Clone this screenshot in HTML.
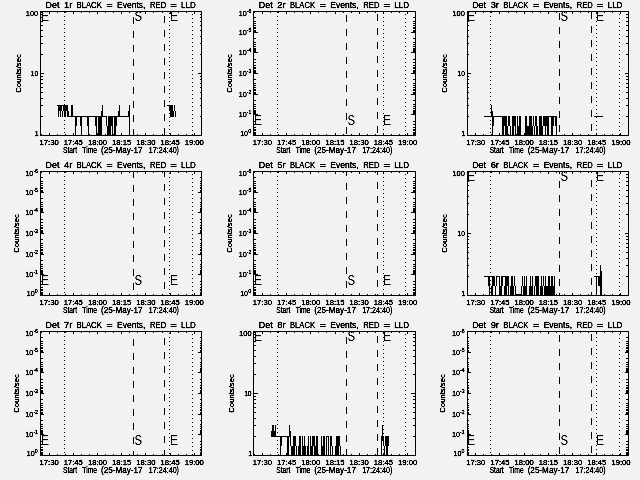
<!DOCTYPE html>
<html><head><meta charset="utf-8"><title>Detector light curves</title>
<style>
html,body{margin:0;padding:0;background:#f2f2f2;}
svg{display:block;filter:grayscale(1);}
text{font-family:"Liberation Sans", sans-serif;fill:#000;stroke:#000;stroke-width:0.28px;}
text.big{stroke-width:0;stroke:none;}
</style></head>
<body>
<svg width="640" height="480" viewBox="0 0 640 480">
<rect x="0" y="0" width="640" height="480" fill="#f2f2f2"/>
<g fill="#000" shape-rendering="crispEdges">
<rect x="40" y="11" width="162" height="1"/>
<rect x="40" y="135" width="162" height="1"/>
<rect x="40" y="11" width="1" height="125"/>
<rect x="201" y="11" width="1" height="125"/>
<rect x="41" y="134" width="1" height="1"/>
<rect x="41" y="12" width="1" height="1"/>
<rect x="49" y="133" width="1" height="2"/>
<rect x="49" y="12" width="1" height="2"/>
<rect x="57" y="134" width="1" height="1"/>
<rect x="57" y="12" width="1" height="1"/>
<rect x="65" y="134" width="1" height="1"/>
<rect x="65" y="12" width="1" height="1"/>
<rect x="73" y="133" width="1" height="2"/>
<rect x="73" y="12" width="1" height="2"/>
<rect x="81" y="134" width="1" height="1"/>
<rect x="81" y="12" width="1" height="1"/>
<rect x="89" y="134" width="1" height="1"/>
<rect x="89" y="12" width="1" height="1"/>
<rect x="97" y="133" width="1" height="2"/>
<rect x="97" y="12" width="1" height="2"/>
<rect x="105" y="134" width="1" height="1"/>
<rect x="105" y="12" width="1" height="1"/>
<rect x="113" y="134" width="1" height="1"/>
<rect x="113" y="12" width="1" height="1"/>
<rect x="121" y="133" width="1" height="2"/>
<rect x="121" y="12" width="1" height="2"/>
<rect x="129" y="134" width="1" height="1"/>
<rect x="129" y="12" width="1" height="1"/>
<rect x="137" y="134" width="1" height="1"/>
<rect x="137" y="12" width="1" height="1"/>
<rect x="145" y="133" width="1" height="2"/>
<rect x="145" y="12" width="1" height="2"/>
<rect x="153" y="134" width="1" height="1"/>
<rect x="153" y="12" width="1" height="1"/>
<rect x="162" y="134" width="1" height="1"/>
<rect x="162" y="12" width="1" height="1"/>
<rect x="170" y="133" width="1" height="2"/>
<rect x="170" y="12" width="1" height="2"/>
<rect x="178" y="134" width="1" height="1"/>
<rect x="178" y="12" width="1" height="1"/>
<rect x="186" y="134" width="1" height="1"/>
<rect x="186" y="12" width="1" height="1"/>
<rect x="194" y="133" width="1" height="2"/>
<rect x="194" y="12" width="1" height="2"/>
<rect x="41" y="116" width="2" height="1"/>
<rect x="200" y="116" width="1" height="1"/>
<rect x="41" y="105" width="2" height="1"/>
<rect x="200" y="105" width="1" height="1"/>
<rect x="41" y="98" width="2" height="1"/>
<rect x="200" y="98" width="1" height="1"/>
<rect x="41" y="92" width="2" height="1"/>
<rect x="200" y="92" width="1" height="1"/>
<rect x="41" y="87" width="2" height="1"/>
<rect x="200" y="87" width="1" height="1"/>
<rect x="41" y="83" width="2" height="1"/>
<rect x="200" y="83" width="1" height="1"/>
<rect x="41" y="79" width="2" height="1"/>
<rect x="200" y="79" width="1" height="1"/>
<rect x="41" y="76" width="2" height="1"/>
<rect x="200" y="76" width="1" height="1"/>
<rect x="41" y="73" width="3" height="1"/>
<rect x="198" y="73" width="3" height="1"/>
<rect x="41" y="54" width="2" height="1"/>
<rect x="200" y="54" width="1" height="1"/>
<rect x="41" y="43" width="2" height="1"/>
<rect x="200" y="43" width="1" height="1"/>
<rect x="41" y="36" width="2" height="1"/>
<rect x="200" y="36" width="1" height="1"/>
<rect x="41" y="30" width="2" height="1"/>
<rect x="200" y="30" width="1" height="1"/>
<rect x="41" y="25" width="2" height="1"/>
<rect x="200" y="25" width="1" height="1"/>
<rect x="41" y="21" width="2" height="1"/>
<rect x="200" y="21" width="1" height="1"/>
<rect x="41" y="17" width="2" height="1"/>
<rect x="200" y="17" width="1" height="1"/>
<rect x="41" y="14" width="2" height="1"/>
<rect x="200" y="14" width="1" height="1"/>
<rect x="64" y="12" width="1" height="1"/>
<rect x="64" y="16" width="1" height="1"/>
<rect x="64" y="20" width="1" height="1"/>
<rect x="64" y="24" width="1" height="1"/>
<rect x="64" y="28" width="1" height="1"/>
<rect x="64" y="32" width="1" height="1"/>
<rect x="64" y="36" width="1" height="1"/>
<rect x="64" y="40" width="1" height="1"/>
<rect x="64" y="44" width="1" height="1"/>
<rect x="64" y="48" width="1" height="1"/>
<rect x="64" y="52" width="1" height="1"/>
<rect x="64" y="56" width="1" height="1"/>
<rect x="64" y="60" width="1" height="1"/>
<rect x="64" y="64" width="1" height="1"/>
<rect x="64" y="68" width="1" height="1"/>
<rect x="64" y="72" width="1" height="1"/>
<rect x="64" y="76" width="1" height="1"/>
<rect x="64" y="80" width="1" height="1"/>
<rect x="64" y="84" width="1" height="1"/>
<rect x="64" y="88" width="1" height="1"/>
<rect x="64" y="92" width="1" height="1"/>
<rect x="64" y="96" width="1" height="1"/>
<rect x="64" y="100" width="1" height="1"/>
<rect x="64" y="104" width="1" height="1"/>
<rect x="64" y="108" width="1" height="1"/>
<rect x="64" y="112" width="1" height="1"/>
<rect x="64" y="116" width="1" height="1"/>
<rect x="64" y="120" width="1" height="1"/>
<rect x="64" y="124" width="1" height="1"/>
<rect x="64" y="128" width="1" height="1"/>
<rect x="64" y="132" width="1" height="1"/>
<rect x="169" y="13" width="1" height="1"/>
<rect x="169" y="17" width="1" height="1"/>
<rect x="169" y="21" width="1" height="1"/>
<rect x="169" y="25" width="1" height="1"/>
<rect x="169" y="29" width="1" height="1"/>
<rect x="169" y="33" width="1" height="1"/>
<rect x="169" y="37" width="1" height="1"/>
<rect x="169" y="41" width="1" height="1"/>
<rect x="169" y="45" width="1" height="1"/>
<rect x="169" y="49" width="1" height="1"/>
<rect x="169" y="53" width="1" height="1"/>
<rect x="169" y="57" width="1" height="1"/>
<rect x="169" y="61" width="1" height="1"/>
<rect x="169" y="65" width="1" height="1"/>
<rect x="169" y="69" width="1" height="1"/>
<rect x="169" y="73" width="1" height="1"/>
<rect x="169" y="77" width="1" height="1"/>
<rect x="169" y="81" width="1" height="1"/>
<rect x="169" y="85" width="1" height="1"/>
<rect x="169" y="89" width="1" height="1"/>
<rect x="169" y="93" width="1" height="1"/>
<rect x="169" y="97" width="1" height="1"/>
<rect x="169" y="101" width="1" height="1"/>
<rect x="169" y="105" width="1" height="1"/>
<rect x="169" y="109" width="1" height="1"/>
<rect x="169" y="113" width="1" height="1"/>
<rect x="169" y="117" width="1" height="1"/>
<rect x="169" y="121" width="1" height="1"/>
<rect x="169" y="125" width="1" height="1"/>
<rect x="169" y="129" width="1" height="1"/>
<rect x="169" y="133" width="1" height="1"/>
<rect x="192" y="14" width="1" height="1"/>
<rect x="192" y="18" width="1" height="1"/>
<rect x="192" y="22" width="1" height="1"/>
<rect x="192" y="26" width="1" height="1"/>
<rect x="192" y="30" width="1" height="1"/>
<rect x="192" y="34" width="1" height="1"/>
<rect x="192" y="38" width="1" height="1"/>
<rect x="192" y="42" width="1" height="1"/>
<rect x="192" y="46" width="1" height="1"/>
<rect x="192" y="50" width="1" height="1"/>
<rect x="192" y="54" width="1" height="1"/>
<rect x="192" y="58" width="1" height="1"/>
<rect x="192" y="62" width="1" height="1"/>
<rect x="192" y="66" width="1" height="1"/>
<rect x="192" y="70" width="1" height="1"/>
<rect x="192" y="74" width="1" height="1"/>
<rect x="192" y="78" width="1" height="1"/>
<rect x="192" y="82" width="1" height="1"/>
<rect x="192" y="86" width="1" height="1"/>
<rect x="192" y="90" width="1" height="1"/>
<rect x="192" y="94" width="1" height="1"/>
<rect x="192" y="98" width="1" height="1"/>
<rect x="192" y="102" width="1" height="1"/>
<rect x="192" y="106" width="1" height="1"/>
<rect x="192" y="110" width="1" height="1"/>
<rect x="192" y="114" width="1" height="1"/>
<rect x="192" y="118" width="1" height="1"/>
<rect x="192" y="122" width="1" height="1"/>
<rect x="192" y="126" width="1" height="1"/>
<rect x="192" y="130" width="1" height="1"/>
<rect x="192" y="134" width="1" height="1"/>
<rect x="133" y="17" width="1" height="7"/>
<rect x="133" y="31" width="1" height="7"/>
<rect x="133" y="45" width="1" height="7"/>
<rect x="133" y="59" width="1" height="7"/>
<rect x="133" y="73" width="1" height="7"/>
<rect x="133" y="87" width="1" height="7"/>
<rect x="133" y="101" width="1" height="7"/>
<rect x="133" y="115" width="1" height="7"/>
<rect x="133" y="129" width="1" height="6"/>
<rect x="164" y="16" width="1" height="7"/>
<rect x="164" y="30" width="1" height="7"/>
<rect x="164" y="44" width="1" height="7"/>
<rect x="164" y="58" width="1" height="7"/>
<rect x="164" y="72" width="1" height="7"/>
<rect x="164" y="86" width="1" height="7"/>
<rect x="164" y="100" width="1" height="7"/>
<rect x="164" y="114" width="1" height="7"/>
<rect x="164" y="128" width="1" height="7"/>
<rect x="57" y="105" width="11" height="1"/>
<rect x="71" y="105" width="2" height="1"/>
<rect x="102" y="105" width="1" height="1"/>
<rect x="119" y="105" width="1" height="1"/>
<rect x="129" y="105" width="1" height="1"/>
<rect x="167" y="105" width="6" height="1"/>
<rect x="174" y="105" width="1" height="1"/>
<rect x="58" y="106" width="4" height="5"/>
<rect x="63" y="106" width="5" height="5"/>
<rect x="71" y="106" width="2" height="5"/>
<rect x="102" y="106" width="1" height="5"/>
<rect x="119" y="106" width="1" height="5"/>
<rect x="129" y="106" width="1" height="5"/>
<rect x="169" y="106" width="4" height="5"/>
<rect x="174" y="106" width="1" height="5"/>
<rect x="58" y="111" width="1" height="5"/>
<rect x="60" y="111" width="1" height="5"/>
<rect x="62" y="111" width="1" height="5"/>
<rect x="64" y="111" width="2" height="5"/>
<rect x="67" y="111" width="2" height="5"/>
<rect x="71" y="111" width="2" height="5"/>
<rect x="101" y="111" width="2" height="5"/>
<rect x="118" y="111" width="2" height="5"/>
<rect x="128" y="111" width="2" height="5"/>
<rect x="170" y="111" width="4" height="5"/>
<rect x="175" y="111" width="1" height="5"/>
<rect x="58" y="116" width="1" height="1"/>
<rect x="60" y="116" width="1" height="1"/>
<rect x="62" y="116" width="1" height="1"/>
<rect x="64" y="116" width="2" height="1"/>
<rect x="67" y="116" width="40" height="1"/>
<rect x="108" y="116" width="22" height="1"/>
<rect x="170" y="116" width="4" height="1"/>
<rect x="175" y="116" width="1" height="1"/>
<rect x="75" y="117" width="2" height="9"/>
<rect x="80" y="117" width="2" height="9"/>
<rect x="87" y="117" width="2" height="9"/>
<rect x="95" y="117" width="2" height="9"/>
<rect x="98" y="117" width="4" height="9"/>
<rect x="106" y="117" width="1" height="9"/>
<rect x="108" y="117" width="5" height="9"/>
<rect x="114" y="117" width="3" height="9"/>
<rect x="129" y="117" width="1" height="9"/>
<rect x="75" y="126" width="1" height="9"/>
<rect x="81" y="126" width="1" height="9"/>
<rect x="88" y="126" width="1" height="9"/>
<rect x="96" y="126" width="1" height="9"/>
<rect x="98" y="126" width="4" height="9"/>
<rect x="107" y="126" width="4" height="9"/>
<rect x="112" y="126" width="1" height="9"/>
<rect x="114" y="126" width="2" height="9"/>
<rect x="129" y="126" width="1" height="9"/>
<rect x="253" y="11" width="163" height="1"/>
<rect x="253" y="135" width="163" height="1"/>
<rect x="253" y="11" width="1" height="125"/>
<rect x="415" y="11" width="1" height="125"/>
<rect x="254" y="134" width="1" height="1"/>
<rect x="254" y="12" width="1" height="1"/>
<rect x="262" y="133" width="1" height="2"/>
<rect x="262" y="12" width="1" height="2"/>
<rect x="270" y="134" width="1" height="1"/>
<rect x="270" y="12" width="1" height="1"/>
<rect x="278" y="134" width="1" height="1"/>
<rect x="278" y="12" width="1" height="1"/>
<rect x="286" y="133" width="1" height="2"/>
<rect x="286" y="12" width="1" height="2"/>
<rect x="294" y="134" width="1" height="1"/>
<rect x="294" y="12" width="1" height="1"/>
<rect x="302" y="134" width="1" height="1"/>
<rect x="302" y="12" width="1" height="1"/>
<rect x="310" y="133" width="1" height="2"/>
<rect x="310" y="12" width="1" height="2"/>
<rect x="318" y="134" width="1" height="1"/>
<rect x="318" y="12" width="1" height="1"/>
<rect x="326" y="134" width="1" height="1"/>
<rect x="326" y="12" width="1" height="1"/>
<rect x="335" y="133" width="1" height="2"/>
<rect x="335" y="12" width="1" height="2"/>
<rect x="343" y="134" width="1" height="1"/>
<rect x="343" y="12" width="1" height="1"/>
<rect x="351" y="134" width="1" height="1"/>
<rect x="351" y="12" width="1" height="1"/>
<rect x="359" y="133" width="1" height="2"/>
<rect x="359" y="12" width="1" height="2"/>
<rect x="367" y="134" width="1" height="1"/>
<rect x="367" y="12" width="1" height="1"/>
<rect x="375" y="134" width="1" height="1"/>
<rect x="375" y="12" width="1" height="1"/>
<rect x="383" y="133" width="1" height="2"/>
<rect x="383" y="12" width="1" height="2"/>
<rect x="391" y="134" width="1" height="1"/>
<rect x="391" y="12" width="1" height="1"/>
<rect x="399" y="134" width="1" height="1"/>
<rect x="399" y="12" width="1" height="1"/>
<rect x="407" y="133" width="1" height="2"/>
<rect x="407" y="12" width="1" height="2"/>
<rect x="254" y="17" width="2" height="1"/>
<rect x="413" y="17" width="2" height="1"/>
<rect x="254" y="21" width="2" height="1"/>
<rect x="413" y="21" width="2" height="1"/>
<rect x="254" y="23" width="2" height="1"/>
<rect x="413" y="23" width="2" height="1"/>
<rect x="254" y="25" width="2" height="1"/>
<rect x="413" y="25" width="2" height="1"/>
<rect x="254" y="27" width="2" height="1"/>
<rect x="413" y="27" width="2" height="1"/>
<rect x="254" y="28" width="2" height="1"/>
<rect x="413" y="28" width="2" height="1"/>
<rect x="254" y="30" width="2" height="1"/>
<rect x="413" y="30" width="2" height="1"/>
<rect x="254" y="31" width="2" height="1"/>
<rect x="413" y="31" width="2" height="1"/>
<rect x="254" y="32" width="4" height="1"/>
<rect x="411" y="32" width="4" height="1"/>
<rect x="254" y="38" width="2" height="1"/>
<rect x="413" y="38" width="2" height="1"/>
<rect x="254" y="42" width="2" height="1"/>
<rect x="413" y="42" width="2" height="1"/>
<rect x="254" y="44" width="2" height="1"/>
<rect x="413" y="44" width="2" height="1"/>
<rect x="254" y="46" width="2" height="1"/>
<rect x="413" y="46" width="2" height="1"/>
<rect x="254" y="48" width="2" height="1"/>
<rect x="413" y="48" width="2" height="1"/>
<rect x="254" y="49" width="2" height="1"/>
<rect x="413" y="49" width="2" height="1"/>
<rect x="254" y="50" width="2" height="1"/>
<rect x="413" y="50" width="2" height="1"/>
<rect x="254" y="51" width="2" height="1"/>
<rect x="413" y="51" width="2" height="1"/>
<rect x="254" y="52" width="4" height="1"/>
<rect x="411" y="52" width="4" height="1"/>
<rect x="254" y="59" width="2" height="1"/>
<rect x="413" y="59" width="2" height="1"/>
<rect x="254" y="62" width="2" height="1"/>
<rect x="413" y="62" width="2" height="1"/>
<rect x="254" y="65" width="2" height="1"/>
<rect x="413" y="65" width="2" height="1"/>
<rect x="254" y="67" width="2" height="1"/>
<rect x="413" y="67" width="2" height="1"/>
<rect x="254" y="68" width="2" height="1"/>
<rect x="413" y="68" width="2" height="1"/>
<rect x="254" y="70" width="2" height="1"/>
<rect x="413" y="70" width="2" height="1"/>
<rect x="254" y="71" width="2" height="1"/>
<rect x="413" y="71" width="2" height="1"/>
<rect x="254" y="72" width="2" height="1"/>
<rect x="413" y="72" width="2" height="1"/>
<rect x="254" y="73" width="4" height="1"/>
<rect x="411" y="73" width="4" height="1"/>
<rect x="254" y="79" width="2" height="1"/>
<rect x="413" y="79" width="2" height="1"/>
<rect x="254" y="83" width="2" height="1"/>
<rect x="413" y="83" width="2" height="1"/>
<rect x="254" y="85" width="2" height="1"/>
<rect x="413" y="85" width="2" height="1"/>
<rect x="254" y="87" width="2" height="1"/>
<rect x="413" y="87" width="2" height="1"/>
<rect x="254" y="89" width="2" height="1"/>
<rect x="413" y="89" width="2" height="1"/>
<rect x="254" y="90" width="2" height="1"/>
<rect x="413" y="90" width="2" height="1"/>
<rect x="254" y="92" width="2" height="1"/>
<rect x="413" y="92" width="2" height="1"/>
<rect x="254" y="93" width="2" height="1"/>
<rect x="413" y="93" width="2" height="1"/>
<rect x="254" y="94" width="4" height="1"/>
<rect x="411" y="94" width="4" height="1"/>
<rect x="254" y="100" width="2" height="1"/>
<rect x="413" y="100" width="2" height="1"/>
<rect x="254" y="104" width="2" height="1"/>
<rect x="413" y="104" width="2" height="1"/>
<rect x="254" y="106" width="2" height="1"/>
<rect x="413" y="106" width="2" height="1"/>
<rect x="254" y="108" width="2" height="1"/>
<rect x="413" y="108" width="2" height="1"/>
<rect x="254" y="110" width="2" height="1"/>
<rect x="413" y="110" width="2" height="1"/>
<rect x="254" y="111" width="2" height="1"/>
<rect x="413" y="111" width="2" height="1"/>
<rect x="254" y="112" width="2" height="1"/>
<rect x="413" y="112" width="2" height="1"/>
<rect x="254" y="113" width="2" height="1"/>
<rect x="413" y="113" width="2" height="1"/>
<rect x="254" y="114" width="4" height="1"/>
<rect x="411" y="114" width="4" height="1"/>
<rect x="254" y="121" width="2" height="1"/>
<rect x="413" y="121" width="2" height="1"/>
<rect x="254" y="124" width="2" height="1"/>
<rect x="413" y="124" width="2" height="1"/>
<rect x="254" y="127" width="2" height="1"/>
<rect x="413" y="127" width="2" height="1"/>
<rect x="254" y="129" width="2" height="1"/>
<rect x="413" y="129" width="2" height="1"/>
<rect x="254" y="130" width="2" height="1"/>
<rect x="413" y="130" width="2" height="1"/>
<rect x="254" y="132" width="2" height="1"/>
<rect x="413" y="132" width="2" height="1"/>
<rect x="254" y="133" width="2" height="1"/>
<rect x="413" y="133" width="2" height="1"/>
<rect x="254" y="134" width="2" height="1"/>
<rect x="413" y="134" width="2" height="1"/>
<rect x="277" y="12" width="1" height="1"/>
<rect x="277" y="16" width="1" height="1"/>
<rect x="277" y="20" width="1" height="1"/>
<rect x="277" y="24" width="1" height="1"/>
<rect x="277" y="28" width="1" height="1"/>
<rect x="277" y="32" width="1" height="1"/>
<rect x="277" y="36" width="1" height="1"/>
<rect x="277" y="40" width="1" height="1"/>
<rect x="277" y="44" width="1" height="1"/>
<rect x="277" y="48" width="1" height="1"/>
<rect x="277" y="52" width="1" height="1"/>
<rect x="277" y="56" width="1" height="1"/>
<rect x="277" y="60" width="1" height="1"/>
<rect x="277" y="64" width="1" height="1"/>
<rect x="277" y="68" width="1" height="1"/>
<rect x="277" y="72" width="1" height="1"/>
<rect x="277" y="76" width="1" height="1"/>
<rect x="277" y="80" width="1" height="1"/>
<rect x="277" y="84" width="1" height="1"/>
<rect x="277" y="88" width="1" height="1"/>
<rect x="277" y="92" width="1" height="1"/>
<rect x="277" y="96" width="1" height="1"/>
<rect x="277" y="100" width="1" height="1"/>
<rect x="277" y="104" width="1" height="1"/>
<rect x="277" y="108" width="1" height="1"/>
<rect x="277" y="112" width="1" height="1"/>
<rect x="277" y="116" width="1" height="1"/>
<rect x="277" y="120" width="1" height="1"/>
<rect x="277" y="124" width="1" height="1"/>
<rect x="277" y="128" width="1" height="1"/>
<rect x="277" y="132" width="1" height="1"/>
<rect x="383" y="13" width="1" height="1"/>
<rect x="383" y="17" width="1" height="1"/>
<rect x="383" y="21" width="1" height="1"/>
<rect x="383" y="25" width="1" height="1"/>
<rect x="383" y="29" width="1" height="1"/>
<rect x="383" y="33" width="1" height="1"/>
<rect x="383" y="37" width="1" height="1"/>
<rect x="383" y="41" width="1" height="1"/>
<rect x="383" y="45" width="1" height="1"/>
<rect x="383" y="49" width="1" height="1"/>
<rect x="383" y="53" width="1" height="1"/>
<rect x="383" y="57" width="1" height="1"/>
<rect x="383" y="61" width="1" height="1"/>
<rect x="383" y="65" width="1" height="1"/>
<rect x="383" y="69" width="1" height="1"/>
<rect x="383" y="73" width="1" height="1"/>
<rect x="383" y="77" width="1" height="1"/>
<rect x="383" y="81" width="1" height="1"/>
<rect x="383" y="85" width="1" height="1"/>
<rect x="383" y="89" width="1" height="1"/>
<rect x="383" y="93" width="1" height="1"/>
<rect x="383" y="97" width="1" height="1"/>
<rect x="383" y="101" width="1" height="1"/>
<rect x="383" y="105" width="1" height="1"/>
<rect x="383" y="109" width="1" height="1"/>
<rect x="383" y="113" width="1" height="1"/>
<rect x="383" y="117" width="1" height="1"/>
<rect x="383" y="121" width="1" height="1"/>
<rect x="383" y="125" width="1" height="1"/>
<rect x="383" y="129" width="1" height="1"/>
<rect x="383" y="133" width="1" height="1"/>
<rect x="405" y="14" width="1" height="1"/>
<rect x="405" y="18" width="1" height="1"/>
<rect x="405" y="22" width="1" height="1"/>
<rect x="405" y="26" width="1" height="1"/>
<rect x="405" y="30" width="1" height="1"/>
<rect x="405" y="34" width="1" height="1"/>
<rect x="405" y="38" width="1" height="1"/>
<rect x="405" y="42" width="1" height="1"/>
<rect x="405" y="46" width="1" height="1"/>
<rect x="405" y="50" width="1" height="1"/>
<rect x="405" y="54" width="1" height="1"/>
<rect x="405" y="58" width="1" height="1"/>
<rect x="405" y="62" width="1" height="1"/>
<rect x="405" y="66" width="1" height="1"/>
<rect x="405" y="70" width="1" height="1"/>
<rect x="405" y="74" width="1" height="1"/>
<rect x="405" y="78" width="1" height="1"/>
<rect x="405" y="82" width="1" height="1"/>
<rect x="405" y="86" width="1" height="1"/>
<rect x="405" y="90" width="1" height="1"/>
<rect x="405" y="94" width="1" height="1"/>
<rect x="405" y="98" width="1" height="1"/>
<rect x="405" y="102" width="1" height="1"/>
<rect x="405" y="106" width="1" height="1"/>
<rect x="405" y="110" width="1" height="1"/>
<rect x="405" y="114" width="1" height="1"/>
<rect x="405" y="118" width="1" height="1"/>
<rect x="405" y="122" width="1" height="1"/>
<rect x="405" y="126" width="1" height="1"/>
<rect x="405" y="130" width="1" height="1"/>
<rect x="405" y="134" width="1" height="1"/>
<rect x="346" y="15" width="1" height="7"/>
<rect x="346" y="29" width="1" height="7"/>
<rect x="346" y="43" width="1" height="7"/>
<rect x="346" y="57" width="1" height="7"/>
<rect x="346" y="71" width="1" height="7"/>
<rect x="346" y="85" width="1" height="7"/>
<rect x="346" y="99" width="1" height="7"/>
<rect x="346" y="113" width="1" height="7"/>
<rect x="346" y="127" width="1" height="7"/>
<rect x="377" y="14" width="1" height="7"/>
<rect x="377" y="28" width="1" height="7"/>
<rect x="377" y="42" width="1" height="7"/>
<rect x="377" y="56" width="1" height="7"/>
<rect x="377" y="70" width="1" height="7"/>
<rect x="377" y="84" width="1" height="7"/>
<rect x="377" y="98" width="1" height="7"/>
<rect x="377" y="112" width="1" height="7"/>
<rect x="377" y="126" width="1" height="7"/>
<rect x="467" y="11" width="162" height="1"/>
<rect x="467" y="135" width="162" height="1"/>
<rect x="467" y="11" width="1" height="125"/>
<rect x="628" y="11" width="1" height="125"/>
<rect x="475" y="133" width="1" height="2"/>
<rect x="475" y="12" width="1" height="2"/>
<rect x="483" y="134" width="1" height="1"/>
<rect x="483" y="12" width="1" height="1"/>
<rect x="491" y="134" width="1" height="1"/>
<rect x="491" y="12" width="1" height="1"/>
<rect x="499" y="133" width="1" height="2"/>
<rect x="499" y="12" width="1" height="2"/>
<rect x="508" y="134" width="1" height="1"/>
<rect x="508" y="12" width="1" height="1"/>
<rect x="516" y="134" width="1" height="1"/>
<rect x="516" y="12" width="1" height="1"/>
<rect x="524" y="133" width="1" height="2"/>
<rect x="524" y="12" width="1" height="2"/>
<rect x="532" y="134" width="1" height="1"/>
<rect x="532" y="12" width="1" height="1"/>
<rect x="540" y="134" width="1" height="1"/>
<rect x="540" y="12" width="1" height="1"/>
<rect x="548" y="133" width="1" height="2"/>
<rect x="548" y="12" width="1" height="2"/>
<rect x="556" y="134" width="1" height="1"/>
<rect x="556" y="12" width="1" height="1"/>
<rect x="564" y="134" width="1" height="1"/>
<rect x="564" y="12" width="1" height="1"/>
<rect x="572" y="133" width="1" height="2"/>
<rect x="572" y="12" width="1" height="2"/>
<rect x="580" y="134" width="1" height="1"/>
<rect x="580" y="12" width="1" height="1"/>
<rect x="588" y="134" width="1" height="1"/>
<rect x="588" y="12" width="1" height="1"/>
<rect x="596" y="133" width="1" height="2"/>
<rect x="596" y="12" width="1" height="2"/>
<rect x="604" y="134" width="1" height="1"/>
<rect x="604" y="12" width="1" height="1"/>
<rect x="612" y="134" width="1" height="1"/>
<rect x="612" y="12" width="1" height="1"/>
<rect x="620" y="133" width="1" height="2"/>
<rect x="620" y="12" width="1" height="2"/>
<rect x="468" y="116" width="1" height="1"/>
<rect x="626" y="116" width="2" height="1"/>
<rect x="468" y="105" width="1" height="1"/>
<rect x="626" y="105" width="2" height="1"/>
<rect x="468" y="98" width="1" height="1"/>
<rect x="626" y="98" width="2" height="1"/>
<rect x="468" y="92" width="1" height="1"/>
<rect x="626" y="92" width="2" height="1"/>
<rect x="468" y="87" width="1" height="1"/>
<rect x="626" y="87" width="2" height="1"/>
<rect x="468" y="83" width="1" height="1"/>
<rect x="626" y="83" width="2" height="1"/>
<rect x="468" y="79" width="1" height="1"/>
<rect x="626" y="79" width="2" height="1"/>
<rect x="468" y="76" width="1" height="1"/>
<rect x="626" y="76" width="2" height="1"/>
<rect x="468" y="73" width="3" height="1"/>
<rect x="625" y="73" width="3" height="1"/>
<rect x="468" y="54" width="1" height="1"/>
<rect x="626" y="54" width="2" height="1"/>
<rect x="468" y="43" width="1" height="1"/>
<rect x="626" y="43" width="2" height="1"/>
<rect x="468" y="36" width="1" height="1"/>
<rect x="626" y="36" width="2" height="1"/>
<rect x="468" y="30" width="1" height="1"/>
<rect x="626" y="30" width="2" height="1"/>
<rect x="468" y="25" width="1" height="1"/>
<rect x="626" y="25" width="2" height="1"/>
<rect x="468" y="21" width="1" height="1"/>
<rect x="626" y="21" width="2" height="1"/>
<rect x="468" y="17" width="1" height="1"/>
<rect x="626" y="17" width="2" height="1"/>
<rect x="468" y="14" width="1" height="1"/>
<rect x="626" y="14" width="2" height="1"/>
<rect x="490" y="12" width="1" height="1"/>
<rect x="490" y="16" width="1" height="1"/>
<rect x="490" y="20" width="1" height="1"/>
<rect x="490" y="24" width="1" height="1"/>
<rect x="490" y="28" width="1" height="1"/>
<rect x="490" y="32" width="1" height="1"/>
<rect x="490" y="36" width="1" height="1"/>
<rect x="490" y="40" width="1" height="1"/>
<rect x="490" y="44" width="1" height="1"/>
<rect x="490" y="48" width="1" height="1"/>
<rect x="490" y="52" width="1" height="1"/>
<rect x="490" y="56" width="1" height="1"/>
<rect x="490" y="60" width="1" height="1"/>
<rect x="490" y="64" width="1" height="1"/>
<rect x="490" y="68" width="1" height="1"/>
<rect x="490" y="72" width="1" height="1"/>
<rect x="490" y="76" width="1" height="1"/>
<rect x="490" y="80" width="1" height="1"/>
<rect x="490" y="84" width="1" height="1"/>
<rect x="490" y="88" width="1" height="1"/>
<rect x="490" y="92" width="1" height="1"/>
<rect x="490" y="96" width="1" height="1"/>
<rect x="490" y="100" width="1" height="1"/>
<rect x="490" y="104" width="1" height="1"/>
<rect x="490" y="108" width="1" height="1"/>
<rect x="490" y="112" width="1" height="1"/>
<rect x="490" y="116" width="1" height="1"/>
<rect x="490" y="120" width="1" height="1"/>
<rect x="490" y="124" width="1" height="1"/>
<rect x="490" y="128" width="1" height="1"/>
<rect x="490" y="132" width="1" height="1"/>
<rect x="596" y="13" width="1" height="1"/>
<rect x="596" y="17" width="1" height="1"/>
<rect x="596" y="21" width="1" height="1"/>
<rect x="596" y="25" width="1" height="1"/>
<rect x="596" y="29" width="1" height="1"/>
<rect x="596" y="33" width="1" height="1"/>
<rect x="596" y="37" width="1" height="1"/>
<rect x="596" y="41" width="1" height="1"/>
<rect x="596" y="45" width="1" height="1"/>
<rect x="596" y="49" width="1" height="1"/>
<rect x="596" y="53" width="1" height="1"/>
<rect x="596" y="57" width="1" height="1"/>
<rect x="596" y="61" width="1" height="1"/>
<rect x="596" y="65" width="1" height="1"/>
<rect x="596" y="69" width="1" height="1"/>
<rect x="596" y="73" width="1" height="1"/>
<rect x="596" y="77" width="1" height="1"/>
<rect x="596" y="81" width="1" height="1"/>
<rect x="596" y="85" width="1" height="1"/>
<rect x="596" y="89" width="1" height="1"/>
<rect x="596" y="93" width="1" height="1"/>
<rect x="596" y="97" width="1" height="1"/>
<rect x="596" y="101" width="1" height="1"/>
<rect x="596" y="105" width="1" height="1"/>
<rect x="596" y="109" width="1" height="1"/>
<rect x="596" y="113" width="1" height="1"/>
<rect x="596" y="117" width="1" height="1"/>
<rect x="596" y="121" width="1" height="1"/>
<rect x="596" y="125" width="1" height="1"/>
<rect x="596" y="129" width="1" height="1"/>
<rect x="596" y="133" width="1" height="1"/>
<rect x="619" y="14" width="1" height="1"/>
<rect x="619" y="18" width="1" height="1"/>
<rect x="619" y="22" width="1" height="1"/>
<rect x="619" y="26" width="1" height="1"/>
<rect x="619" y="30" width="1" height="1"/>
<rect x="619" y="34" width="1" height="1"/>
<rect x="619" y="38" width="1" height="1"/>
<rect x="619" y="42" width="1" height="1"/>
<rect x="619" y="46" width="1" height="1"/>
<rect x="619" y="50" width="1" height="1"/>
<rect x="619" y="54" width="1" height="1"/>
<rect x="619" y="58" width="1" height="1"/>
<rect x="619" y="62" width="1" height="1"/>
<rect x="619" y="66" width="1" height="1"/>
<rect x="619" y="70" width="1" height="1"/>
<rect x="619" y="74" width="1" height="1"/>
<rect x="619" y="78" width="1" height="1"/>
<rect x="619" y="82" width="1" height="1"/>
<rect x="619" y="86" width="1" height="1"/>
<rect x="619" y="90" width="1" height="1"/>
<rect x="619" y="94" width="1" height="1"/>
<rect x="619" y="98" width="1" height="1"/>
<rect x="619" y="102" width="1" height="1"/>
<rect x="619" y="106" width="1" height="1"/>
<rect x="619" y="110" width="1" height="1"/>
<rect x="619" y="114" width="1" height="1"/>
<rect x="619" y="118" width="1" height="1"/>
<rect x="619" y="122" width="1" height="1"/>
<rect x="619" y="126" width="1" height="1"/>
<rect x="619" y="130" width="1" height="1"/>
<rect x="619" y="134" width="1" height="1"/>
<rect x="559" y="13" width="1" height="7"/>
<rect x="559" y="27" width="1" height="7"/>
<rect x="559" y="41" width="1" height="7"/>
<rect x="559" y="55" width="1" height="7"/>
<rect x="559" y="69" width="1" height="7"/>
<rect x="559" y="83" width="1" height="7"/>
<rect x="559" y="97" width="1" height="7"/>
<rect x="559" y="111" width="1" height="7"/>
<rect x="559" y="125" width="1" height="7"/>
<rect x="591" y="12" width="1" height="7"/>
<rect x="591" y="26" width="1" height="7"/>
<rect x="591" y="40" width="1" height="7"/>
<rect x="591" y="54" width="1" height="7"/>
<rect x="591" y="68" width="1" height="7"/>
<rect x="591" y="82" width="1" height="7"/>
<rect x="591" y="96" width="1" height="7"/>
<rect x="591" y="110" width="1" height="7"/>
<rect x="591" y="124" width="1" height="7"/>
<rect x="491" y="105" width="1" height="1"/>
<rect x="491" y="106" width="1" height="5"/>
<rect x="491" y="111" width="2" height="5"/>
<rect x="484" y="116" width="23" height="1"/>
<rect x="508" y="116" width="2" height="1"/>
<rect x="512" y="116" width="4" height="1"/>
<rect x="517" y="116" width="1" height="1"/>
<rect x="519" y="116" width="2" height="1"/>
<rect x="525" y="116" width="2" height="1"/>
<rect x="529" y="116" width="3" height="1"/>
<rect x="533" y="116" width="1" height="1"/>
<rect x="535" y="116" width="2" height="1"/>
<rect x="539" y="116" width="3" height="1"/>
<rect x="543" y="116" width="14" height="1"/>
<rect x="594" y="116" width="9" height="1"/>
<rect x="492" y="117" width="2" height="9"/>
<rect x="502" y="117" width="5" height="9"/>
<rect x="508" y="117" width="2" height="9"/>
<rect x="512" y="117" width="4" height="9"/>
<rect x="517" y="117" width="1" height="9"/>
<rect x="519" y="117" width="2" height="9"/>
<rect x="525" y="117" width="2" height="9"/>
<rect x="529" y="117" width="3" height="9"/>
<rect x="533" y="117" width="1" height="9"/>
<rect x="535" y="117" width="2" height="9"/>
<rect x="539" y="117" width="3" height="9"/>
<rect x="543" y="117" width="6" height="9"/>
<rect x="551" y="117" width="3" height="9"/>
<rect x="555" y="117" width="2" height="9"/>
<rect x="492" y="126" width="1" height="9"/>
<rect x="502" y="126" width="2" height="9"/>
<rect x="505" y="126" width="3" height="9"/>
<rect x="510" y="126" width="1" height="9"/>
<rect x="512" y="126" width="2" height="9"/>
<rect x="515" y="126" width="1" height="9"/>
<rect x="517" y="126" width="4" height="9"/>
<rect x="525" y="126" width="8" height="9"/>
<rect x="534" y="126" width="1" height="9"/>
<rect x="536" y="126" width="2" height="9"/>
<rect x="539" y="126" width="4" height="9"/>
<rect x="545" y="126" width="1" height="9"/>
<rect x="547" y="126" width="2" height="9"/>
<rect x="551" y="126" width="2" height="9"/>
<rect x="556" y="126" width="1" height="9"/>
<rect x="524" y="133" width="1" height="2"/>
<rect x="40" y="171" width="162" height="1"/>
<rect x="40" y="295" width="162" height="1"/>
<rect x="40" y="171" width="1" height="125"/>
<rect x="201" y="171" width="1" height="125"/>
<rect x="41" y="294" width="1" height="1"/>
<rect x="41" y="172" width="1" height="1"/>
<rect x="49" y="293" width="1" height="2"/>
<rect x="49" y="172" width="1" height="2"/>
<rect x="57" y="294" width="1" height="1"/>
<rect x="57" y="172" width="1" height="1"/>
<rect x="65" y="294" width="1" height="1"/>
<rect x="65" y="172" width="1" height="1"/>
<rect x="73" y="293" width="1" height="2"/>
<rect x="73" y="172" width="1" height="2"/>
<rect x="81" y="294" width="1" height="1"/>
<rect x="81" y="172" width="1" height="1"/>
<rect x="89" y="294" width="1" height="1"/>
<rect x="89" y="172" width="1" height="1"/>
<rect x="97" y="293" width="1" height="2"/>
<rect x="97" y="172" width="1" height="2"/>
<rect x="105" y="294" width="1" height="1"/>
<rect x="105" y="172" width="1" height="1"/>
<rect x="113" y="294" width="1" height="1"/>
<rect x="113" y="172" width="1" height="1"/>
<rect x="121" y="293" width="1" height="2"/>
<rect x="121" y="172" width="1" height="2"/>
<rect x="129" y="294" width="1" height="1"/>
<rect x="129" y="172" width="1" height="1"/>
<rect x="137" y="294" width="1" height="1"/>
<rect x="137" y="172" width="1" height="1"/>
<rect x="145" y="293" width="1" height="2"/>
<rect x="145" y="172" width="1" height="2"/>
<rect x="153" y="294" width="1" height="1"/>
<rect x="153" y="172" width="1" height="1"/>
<rect x="162" y="294" width="1" height="1"/>
<rect x="162" y="172" width="1" height="1"/>
<rect x="170" y="293" width="1" height="2"/>
<rect x="170" y="172" width="1" height="2"/>
<rect x="178" y="294" width="1" height="1"/>
<rect x="178" y="172" width="1" height="1"/>
<rect x="186" y="294" width="1" height="1"/>
<rect x="186" y="172" width="1" height="1"/>
<rect x="194" y="293" width="1" height="2"/>
<rect x="194" y="172" width="1" height="2"/>
<rect x="41" y="177" width="2" height="1"/>
<rect x="200" y="177" width="1" height="1"/>
<rect x="41" y="181" width="2" height="1"/>
<rect x="200" y="181" width="1" height="1"/>
<rect x="41" y="183" width="2" height="1"/>
<rect x="200" y="183" width="1" height="1"/>
<rect x="41" y="185" width="2" height="1"/>
<rect x="200" y="185" width="1" height="1"/>
<rect x="41" y="187" width="2" height="1"/>
<rect x="200" y="187" width="1" height="1"/>
<rect x="41" y="188" width="2" height="1"/>
<rect x="200" y="188" width="1" height="1"/>
<rect x="41" y="190" width="2" height="1"/>
<rect x="200" y="190" width="1" height="1"/>
<rect x="41" y="191" width="2" height="1"/>
<rect x="200" y="191" width="1" height="1"/>
<rect x="41" y="192" width="3" height="1"/>
<rect x="198" y="192" width="3" height="1"/>
<rect x="41" y="198" width="2" height="1"/>
<rect x="200" y="198" width="1" height="1"/>
<rect x="41" y="202" width="2" height="1"/>
<rect x="200" y="202" width="1" height="1"/>
<rect x="41" y="204" width="2" height="1"/>
<rect x="200" y="204" width="1" height="1"/>
<rect x="41" y="206" width="2" height="1"/>
<rect x="200" y="206" width="1" height="1"/>
<rect x="41" y="208" width="2" height="1"/>
<rect x="200" y="208" width="1" height="1"/>
<rect x="41" y="209" width="2" height="1"/>
<rect x="200" y="209" width="1" height="1"/>
<rect x="41" y="210" width="2" height="1"/>
<rect x="200" y="210" width="1" height="1"/>
<rect x="41" y="211" width="2" height="1"/>
<rect x="200" y="211" width="1" height="1"/>
<rect x="41" y="212" width="3" height="1"/>
<rect x="198" y="212" width="3" height="1"/>
<rect x="41" y="219" width="2" height="1"/>
<rect x="200" y="219" width="1" height="1"/>
<rect x="41" y="222" width="2" height="1"/>
<rect x="200" y="222" width="1" height="1"/>
<rect x="41" y="225" width="2" height="1"/>
<rect x="200" y="225" width="1" height="1"/>
<rect x="41" y="227" width="2" height="1"/>
<rect x="200" y="227" width="1" height="1"/>
<rect x="41" y="228" width="2" height="1"/>
<rect x="200" y="228" width="1" height="1"/>
<rect x="41" y="230" width="2" height="1"/>
<rect x="200" y="230" width="1" height="1"/>
<rect x="41" y="231" width="2" height="1"/>
<rect x="200" y="231" width="1" height="1"/>
<rect x="41" y="232" width="2" height="1"/>
<rect x="200" y="232" width="1" height="1"/>
<rect x="41" y="233" width="3" height="1"/>
<rect x="198" y="233" width="3" height="1"/>
<rect x="41" y="239" width="2" height="1"/>
<rect x="200" y="239" width="1" height="1"/>
<rect x="41" y="243" width="2" height="1"/>
<rect x="200" y="243" width="1" height="1"/>
<rect x="41" y="245" width="2" height="1"/>
<rect x="200" y="245" width="1" height="1"/>
<rect x="41" y="247" width="2" height="1"/>
<rect x="200" y="247" width="1" height="1"/>
<rect x="41" y="249" width="2" height="1"/>
<rect x="200" y="249" width="1" height="1"/>
<rect x="41" y="250" width="2" height="1"/>
<rect x="200" y="250" width="1" height="1"/>
<rect x="41" y="252" width="2" height="1"/>
<rect x="200" y="252" width="1" height="1"/>
<rect x="41" y="253" width="2" height="1"/>
<rect x="200" y="253" width="1" height="1"/>
<rect x="41" y="254" width="3" height="1"/>
<rect x="198" y="254" width="3" height="1"/>
<rect x="41" y="260" width="2" height="1"/>
<rect x="200" y="260" width="1" height="1"/>
<rect x="41" y="264" width="2" height="1"/>
<rect x="200" y="264" width="1" height="1"/>
<rect x="41" y="266" width="2" height="1"/>
<rect x="200" y="266" width="1" height="1"/>
<rect x="41" y="268" width="2" height="1"/>
<rect x="200" y="268" width="1" height="1"/>
<rect x="41" y="270" width="2" height="1"/>
<rect x="200" y="270" width="1" height="1"/>
<rect x="41" y="271" width="2" height="1"/>
<rect x="200" y="271" width="1" height="1"/>
<rect x="41" y="272" width="2" height="1"/>
<rect x="200" y="272" width="1" height="1"/>
<rect x="41" y="273" width="2" height="1"/>
<rect x="200" y="273" width="1" height="1"/>
<rect x="41" y="274" width="3" height="1"/>
<rect x="198" y="274" width="3" height="1"/>
<rect x="41" y="281" width="2" height="1"/>
<rect x="200" y="281" width="1" height="1"/>
<rect x="41" y="284" width="2" height="1"/>
<rect x="200" y="284" width="1" height="1"/>
<rect x="41" y="287" width="2" height="1"/>
<rect x="200" y="287" width="1" height="1"/>
<rect x="41" y="289" width="2" height="1"/>
<rect x="200" y="289" width="1" height="1"/>
<rect x="41" y="290" width="2" height="1"/>
<rect x="200" y="290" width="1" height="1"/>
<rect x="41" y="292" width="2" height="1"/>
<rect x="200" y="292" width="1" height="1"/>
<rect x="41" y="293" width="2" height="1"/>
<rect x="200" y="293" width="1" height="1"/>
<rect x="41" y="294" width="2" height="1"/>
<rect x="200" y="294" width="1" height="1"/>
<rect x="64" y="172" width="1" height="1"/>
<rect x="64" y="176" width="1" height="1"/>
<rect x="64" y="180" width="1" height="1"/>
<rect x="64" y="184" width="1" height="1"/>
<rect x="64" y="188" width="1" height="1"/>
<rect x="64" y="192" width="1" height="1"/>
<rect x="64" y="196" width="1" height="1"/>
<rect x="64" y="200" width="1" height="1"/>
<rect x="64" y="204" width="1" height="1"/>
<rect x="64" y="208" width="1" height="1"/>
<rect x="64" y="212" width="1" height="1"/>
<rect x="64" y="216" width="1" height="1"/>
<rect x="64" y="220" width="1" height="1"/>
<rect x="64" y="224" width="1" height="1"/>
<rect x="64" y="228" width="1" height="1"/>
<rect x="64" y="232" width="1" height="1"/>
<rect x="64" y="236" width="1" height="1"/>
<rect x="64" y="240" width="1" height="1"/>
<rect x="64" y="244" width="1" height="1"/>
<rect x="64" y="248" width="1" height="1"/>
<rect x="64" y="252" width="1" height="1"/>
<rect x="64" y="256" width="1" height="1"/>
<rect x="64" y="260" width="1" height="1"/>
<rect x="64" y="264" width="1" height="1"/>
<rect x="64" y="268" width="1" height="1"/>
<rect x="64" y="272" width="1" height="1"/>
<rect x="64" y="276" width="1" height="1"/>
<rect x="64" y="280" width="1" height="1"/>
<rect x="64" y="284" width="1" height="1"/>
<rect x="64" y="288" width="1" height="1"/>
<rect x="64" y="292" width="1" height="1"/>
<rect x="169" y="173" width="1" height="1"/>
<rect x="169" y="177" width="1" height="1"/>
<rect x="169" y="181" width="1" height="1"/>
<rect x="169" y="185" width="1" height="1"/>
<rect x="169" y="189" width="1" height="1"/>
<rect x="169" y="193" width="1" height="1"/>
<rect x="169" y="197" width="1" height="1"/>
<rect x="169" y="201" width="1" height="1"/>
<rect x="169" y="205" width="1" height="1"/>
<rect x="169" y="209" width="1" height="1"/>
<rect x="169" y="213" width="1" height="1"/>
<rect x="169" y="217" width="1" height="1"/>
<rect x="169" y="221" width="1" height="1"/>
<rect x="169" y="225" width="1" height="1"/>
<rect x="169" y="229" width="1" height="1"/>
<rect x="169" y="233" width="1" height="1"/>
<rect x="169" y="237" width="1" height="1"/>
<rect x="169" y="241" width="1" height="1"/>
<rect x="169" y="245" width="1" height="1"/>
<rect x="169" y="249" width="1" height="1"/>
<rect x="169" y="253" width="1" height="1"/>
<rect x="169" y="257" width="1" height="1"/>
<rect x="169" y="261" width="1" height="1"/>
<rect x="169" y="265" width="1" height="1"/>
<rect x="169" y="269" width="1" height="1"/>
<rect x="169" y="273" width="1" height="1"/>
<rect x="169" y="277" width="1" height="1"/>
<rect x="169" y="281" width="1" height="1"/>
<rect x="169" y="285" width="1" height="1"/>
<rect x="169" y="289" width="1" height="1"/>
<rect x="169" y="293" width="1" height="1"/>
<rect x="192" y="174" width="1" height="1"/>
<rect x="192" y="178" width="1" height="1"/>
<rect x="192" y="182" width="1" height="1"/>
<rect x="192" y="186" width="1" height="1"/>
<rect x="192" y="190" width="1" height="1"/>
<rect x="192" y="194" width="1" height="1"/>
<rect x="192" y="198" width="1" height="1"/>
<rect x="192" y="202" width="1" height="1"/>
<rect x="192" y="206" width="1" height="1"/>
<rect x="192" y="210" width="1" height="1"/>
<rect x="192" y="214" width="1" height="1"/>
<rect x="192" y="218" width="1" height="1"/>
<rect x="192" y="222" width="1" height="1"/>
<rect x="192" y="226" width="1" height="1"/>
<rect x="192" y="230" width="1" height="1"/>
<rect x="192" y="234" width="1" height="1"/>
<rect x="192" y="238" width="1" height="1"/>
<rect x="192" y="242" width="1" height="1"/>
<rect x="192" y="246" width="1" height="1"/>
<rect x="192" y="250" width="1" height="1"/>
<rect x="192" y="254" width="1" height="1"/>
<rect x="192" y="258" width="1" height="1"/>
<rect x="192" y="262" width="1" height="1"/>
<rect x="192" y="266" width="1" height="1"/>
<rect x="192" y="270" width="1" height="1"/>
<rect x="192" y="274" width="1" height="1"/>
<rect x="192" y="278" width="1" height="1"/>
<rect x="192" y="282" width="1" height="1"/>
<rect x="192" y="286" width="1" height="1"/>
<rect x="192" y="290" width="1" height="1"/>
<rect x="192" y="294" width="1" height="1"/>
<rect x="133" y="172" width="1" height="6"/>
<rect x="133" y="185" width="1" height="7"/>
<rect x="133" y="199" width="1" height="7"/>
<rect x="133" y="213" width="1" height="7"/>
<rect x="133" y="227" width="1" height="7"/>
<rect x="133" y="241" width="1" height="7"/>
<rect x="133" y="255" width="1" height="7"/>
<rect x="133" y="269" width="1" height="7"/>
<rect x="133" y="283" width="1" height="7"/>
<rect x="164" y="172" width="1" height="5"/>
<rect x="164" y="184" width="1" height="7"/>
<rect x="164" y="198" width="1" height="7"/>
<rect x="164" y="212" width="1" height="7"/>
<rect x="164" y="226" width="1" height="7"/>
<rect x="164" y="240" width="1" height="7"/>
<rect x="164" y="254" width="1" height="7"/>
<rect x="164" y="268" width="1" height="7"/>
<rect x="164" y="282" width="1" height="7"/>
<rect x="253" y="171" width="163" height="1"/>
<rect x="253" y="295" width="163" height="1"/>
<rect x="253" y="171" width="1" height="125"/>
<rect x="415" y="171" width="1" height="125"/>
<rect x="254" y="294" width="1" height="1"/>
<rect x="254" y="172" width="1" height="1"/>
<rect x="262" y="293" width="1" height="2"/>
<rect x="262" y="172" width="1" height="2"/>
<rect x="270" y="294" width="1" height="1"/>
<rect x="270" y="172" width="1" height="1"/>
<rect x="278" y="294" width="1" height="1"/>
<rect x="278" y="172" width="1" height="1"/>
<rect x="286" y="293" width="1" height="2"/>
<rect x="286" y="172" width="1" height="2"/>
<rect x="294" y="294" width="1" height="1"/>
<rect x="294" y="172" width="1" height="1"/>
<rect x="302" y="294" width="1" height="1"/>
<rect x="302" y="172" width="1" height="1"/>
<rect x="310" y="293" width="1" height="2"/>
<rect x="310" y="172" width="1" height="2"/>
<rect x="318" y="294" width="1" height="1"/>
<rect x="318" y="172" width="1" height="1"/>
<rect x="326" y="294" width="1" height="1"/>
<rect x="326" y="172" width="1" height="1"/>
<rect x="335" y="293" width="1" height="2"/>
<rect x="335" y="172" width="1" height="2"/>
<rect x="343" y="294" width="1" height="1"/>
<rect x="343" y="172" width="1" height="1"/>
<rect x="351" y="294" width="1" height="1"/>
<rect x="351" y="172" width="1" height="1"/>
<rect x="359" y="293" width="1" height="2"/>
<rect x="359" y="172" width="1" height="2"/>
<rect x="367" y="294" width="1" height="1"/>
<rect x="367" y="172" width="1" height="1"/>
<rect x="375" y="294" width="1" height="1"/>
<rect x="375" y="172" width="1" height="1"/>
<rect x="383" y="293" width="1" height="2"/>
<rect x="383" y="172" width="1" height="2"/>
<rect x="391" y="294" width="1" height="1"/>
<rect x="391" y="172" width="1" height="1"/>
<rect x="399" y="294" width="1" height="1"/>
<rect x="399" y="172" width="1" height="1"/>
<rect x="407" y="293" width="1" height="2"/>
<rect x="407" y="172" width="1" height="2"/>
<rect x="254" y="177" width="2" height="1"/>
<rect x="413" y="177" width="2" height="1"/>
<rect x="254" y="181" width="2" height="1"/>
<rect x="413" y="181" width="2" height="1"/>
<rect x="254" y="183" width="2" height="1"/>
<rect x="413" y="183" width="2" height="1"/>
<rect x="254" y="185" width="2" height="1"/>
<rect x="413" y="185" width="2" height="1"/>
<rect x="254" y="187" width="2" height="1"/>
<rect x="413" y="187" width="2" height="1"/>
<rect x="254" y="188" width="2" height="1"/>
<rect x="413" y="188" width="2" height="1"/>
<rect x="254" y="190" width="2" height="1"/>
<rect x="413" y="190" width="2" height="1"/>
<rect x="254" y="191" width="2" height="1"/>
<rect x="413" y="191" width="2" height="1"/>
<rect x="254" y="192" width="4" height="1"/>
<rect x="411" y="192" width="4" height="1"/>
<rect x="254" y="198" width="2" height="1"/>
<rect x="413" y="198" width="2" height="1"/>
<rect x="254" y="202" width="2" height="1"/>
<rect x="413" y="202" width="2" height="1"/>
<rect x="254" y="204" width="2" height="1"/>
<rect x="413" y="204" width="2" height="1"/>
<rect x="254" y="206" width="2" height="1"/>
<rect x="413" y="206" width="2" height="1"/>
<rect x="254" y="208" width="2" height="1"/>
<rect x="413" y="208" width="2" height="1"/>
<rect x="254" y="209" width="2" height="1"/>
<rect x="413" y="209" width="2" height="1"/>
<rect x="254" y="210" width="2" height="1"/>
<rect x="413" y="210" width="2" height="1"/>
<rect x="254" y="211" width="2" height="1"/>
<rect x="413" y="211" width="2" height="1"/>
<rect x="254" y="212" width="4" height="1"/>
<rect x="411" y="212" width="4" height="1"/>
<rect x="254" y="219" width="2" height="1"/>
<rect x="413" y="219" width="2" height="1"/>
<rect x="254" y="222" width="2" height="1"/>
<rect x="413" y="222" width="2" height="1"/>
<rect x="254" y="225" width="2" height="1"/>
<rect x="413" y="225" width="2" height="1"/>
<rect x="254" y="227" width="2" height="1"/>
<rect x="413" y="227" width="2" height="1"/>
<rect x="254" y="228" width="2" height="1"/>
<rect x="413" y="228" width="2" height="1"/>
<rect x="254" y="230" width="2" height="1"/>
<rect x="413" y="230" width="2" height="1"/>
<rect x="254" y="231" width="2" height="1"/>
<rect x="413" y="231" width="2" height="1"/>
<rect x="254" y="232" width="2" height="1"/>
<rect x="413" y="232" width="2" height="1"/>
<rect x="254" y="233" width="4" height="1"/>
<rect x="411" y="233" width="4" height="1"/>
<rect x="254" y="239" width="2" height="1"/>
<rect x="413" y="239" width="2" height="1"/>
<rect x="254" y="243" width="2" height="1"/>
<rect x="413" y="243" width="2" height="1"/>
<rect x="254" y="245" width="2" height="1"/>
<rect x="413" y="245" width="2" height="1"/>
<rect x="254" y="247" width="2" height="1"/>
<rect x="413" y="247" width="2" height="1"/>
<rect x="254" y="249" width="2" height="1"/>
<rect x="413" y="249" width="2" height="1"/>
<rect x="254" y="250" width="2" height="1"/>
<rect x="413" y="250" width="2" height="1"/>
<rect x="254" y="252" width="2" height="1"/>
<rect x="413" y="252" width="2" height="1"/>
<rect x="254" y="253" width="2" height="1"/>
<rect x="413" y="253" width="2" height="1"/>
<rect x="254" y="254" width="4" height="1"/>
<rect x="411" y="254" width="4" height="1"/>
<rect x="254" y="260" width="2" height="1"/>
<rect x="413" y="260" width="2" height="1"/>
<rect x="254" y="264" width="2" height="1"/>
<rect x="413" y="264" width="2" height="1"/>
<rect x="254" y="266" width="2" height="1"/>
<rect x="413" y="266" width="2" height="1"/>
<rect x="254" y="268" width="2" height="1"/>
<rect x="413" y="268" width="2" height="1"/>
<rect x="254" y="270" width="2" height="1"/>
<rect x="413" y="270" width="2" height="1"/>
<rect x="254" y="271" width="2" height="1"/>
<rect x="413" y="271" width="2" height="1"/>
<rect x="254" y="272" width="2" height="1"/>
<rect x="413" y="272" width="2" height="1"/>
<rect x="254" y="273" width="2" height="1"/>
<rect x="413" y="273" width="2" height="1"/>
<rect x="254" y="274" width="4" height="1"/>
<rect x="411" y="274" width="4" height="1"/>
<rect x="254" y="281" width="2" height="1"/>
<rect x="413" y="281" width="2" height="1"/>
<rect x="254" y="284" width="2" height="1"/>
<rect x="413" y="284" width="2" height="1"/>
<rect x="254" y="287" width="2" height="1"/>
<rect x="413" y="287" width="2" height="1"/>
<rect x="254" y="289" width="2" height="1"/>
<rect x="413" y="289" width="2" height="1"/>
<rect x="254" y="290" width="2" height="1"/>
<rect x="413" y="290" width="2" height="1"/>
<rect x="254" y="292" width="2" height="1"/>
<rect x="413" y="292" width="2" height="1"/>
<rect x="254" y="293" width="2" height="1"/>
<rect x="413" y="293" width="2" height="1"/>
<rect x="254" y="294" width="2" height="1"/>
<rect x="413" y="294" width="2" height="1"/>
<rect x="277" y="172" width="1" height="1"/>
<rect x="277" y="176" width="1" height="1"/>
<rect x="277" y="180" width="1" height="1"/>
<rect x="277" y="184" width="1" height="1"/>
<rect x="277" y="188" width="1" height="1"/>
<rect x="277" y="192" width="1" height="1"/>
<rect x="277" y="196" width="1" height="1"/>
<rect x="277" y="200" width="1" height="1"/>
<rect x="277" y="204" width="1" height="1"/>
<rect x="277" y="208" width="1" height="1"/>
<rect x="277" y="212" width="1" height="1"/>
<rect x="277" y="216" width="1" height="1"/>
<rect x="277" y="220" width="1" height="1"/>
<rect x="277" y="224" width="1" height="1"/>
<rect x="277" y="228" width="1" height="1"/>
<rect x="277" y="232" width="1" height="1"/>
<rect x="277" y="236" width="1" height="1"/>
<rect x="277" y="240" width="1" height="1"/>
<rect x="277" y="244" width="1" height="1"/>
<rect x="277" y="248" width="1" height="1"/>
<rect x="277" y="252" width="1" height="1"/>
<rect x="277" y="256" width="1" height="1"/>
<rect x="277" y="260" width="1" height="1"/>
<rect x="277" y="264" width="1" height="1"/>
<rect x="277" y="268" width="1" height="1"/>
<rect x="277" y="272" width="1" height="1"/>
<rect x="277" y="276" width="1" height="1"/>
<rect x="277" y="280" width="1" height="1"/>
<rect x="277" y="284" width="1" height="1"/>
<rect x="277" y="288" width="1" height="1"/>
<rect x="277" y="292" width="1" height="1"/>
<rect x="383" y="173" width="1" height="1"/>
<rect x="383" y="177" width="1" height="1"/>
<rect x="383" y="181" width="1" height="1"/>
<rect x="383" y="185" width="1" height="1"/>
<rect x="383" y="189" width="1" height="1"/>
<rect x="383" y="193" width="1" height="1"/>
<rect x="383" y="197" width="1" height="1"/>
<rect x="383" y="201" width="1" height="1"/>
<rect x="383" y="205" width="1" height="1"/>
<rect x="383" y="209" width="1" height="1"/>
<rect x="383" y="213" width="1" height="1"/>
<rect x="383" y="217" width="1" height="1"/>
<rect x="383" y="221" width="1" height="1"/>
<rect x="383" y="225" width="1" height="1"/>
<rect x="383" y="229" width="1" height="1"/>
<rect x="383" y="233" width="1" height="1"/>
<rect x="383" y="237" width="1" height="1"/>
<rect x="383" y="241" width="1" height="1"/>
<rect x="383" y="245" width="1" height="1"/>
<rect x="383" y="249" width="1" height="1"/>
<rect x="383" y="253" width="1" height="1"/>
<rect x="383" y="257" width="1" height="1"/>
<rect x="383" y="261" width="1" height="1"/>
<rect x="383" y="265" width="1" height="1"/>
<rect x="383" y="269" width="1" height="1"/>
<rect x="383" y="273" width="1" height="1"/>
<rect x="383" y="277" width="1" height="1"/>
<rect x="383" y="281" width="1" height="1"/>
<rect x="383" y="285" width="1" height="1"/>
<rect x="383" y="289" width="1" height="1"/>
<rect x="383" y="293" width="1" height="1"/>
<rect x="405" y="174" width="1" height="1"/>
<rect x="405" y="178" width="1" height="1"/>
<rect x="405" y="182" width="1" height="1"/>
<rect x="405" y="186" width="1" height="1"/>
<rect x="405" y="190" width="1" height="1"/>
<rect x="405" y="194" width="1" height="1"/>
<rect x="405" y="198" width="1" height="1"/>
<rect x="405" y="202" width="1" height="1"/>
<rect x="405" y="206" width="1" height="1"/>
<rect x="405" y="210" width="1" height="1"/>
<rect x="405" y="214" width="1" height="1"/>
<rect x="405" y="218" width="1" height="1"/>
<rect x="405" y="222" width="1" height="1"/>
<rect x="405" y="226" width="1" height="1"/>
<rect x="405" y="230" width="1" height="1"/>
<rect x="405" y="234" width="1" height="1"/>
<rect x="405" y="238" width="1" height="1"/>
<rect x="405" y="242" width="1" height="1"/>
<rect x="405" y="246" width="1" height="1"/>
<rect x="405" y="250" width="1" height="1"/>
<rect x="405" y="254" width="1" height="1"/>
<rect x="405" y="258" width="1" height="1"/>
<rect x="405" y="262" width="1" height="1"/>
<rect x="405" y="266" width="1" height="1"/>
<rect x="405" y="270" width="1" height="1"/>
<rect x="405" y="274" width="1" height="1"/>
<rect x="405" y="278" width="1" height="1"/>
<rect x="405" y="282" width="1" height="1"/>
<rect x="405" y="286" width="1" height="1"/>
<rect x="405" y="290" width="1" height="1"/>
<rect x="405" y="294" width="1" height="1"/>
<rect x="346" y="172" width="1" height="4"/>
<rect x="346" y="183" width="1" height="7"/>
<rect x="346" y="197" width="1" height="7"/>
<rect x="346" y="211" width="1" height="7"/>
<rect x="346" y="225" width="1" height="7"/>
<rect x="346" y="239" width="1" height="7"/>
<rect x="346" y="253" width="1" height="7"/>
<rect x="346" y="267" width="1" height="7"/>
<rect x="346" y="281" width="1" height="7"/>
<rect x="377" y="172" width="1" height="3"/>
<rect x="377" y="182" width="1" height="7"/>
<rect x="377" y="196" width="1" height="7"/>
<rect x="377" y="210" width="1" height="7"/>
<rect x="377" y="224" width="1" height="7"/>
<rect x="377" y="238" width="1" height="7"/>
<rect x="377" y="252" width="1" height="7"/>
<rect x="377" y="266" width="1" height="7"/>
<rect x="377" y="280" width="1" height="7"/>
<rect x="377" y="294" width="1" height="1"/>
<rect x="467" y="171" width="162" height="1"/>
<rect x="467" y="295" width="162" height="1"/>
<rect x="467" y="171" width="1" height="125"/>
<rect x="628" y="171" width="1" height="125"/>
<rect x="475" y="293" width="1" height="2"/>
<rect x="475" y="172" width="1" height="2"/>
<rect x="483" y="294" width="1" height="1"/>
<rect x="483" y="172" width="1" height="1"/>
<rect x="491" y="294" width="1" height="1"/>
<rect x="491" y="172" width="1" height="1"/>
<rect x="499" y="293" width="1" height="2"/>
<rect x="499" y="172" width="1" height="2"/>
<rect x="508" y="294" width="1" height="1"/>
<rect x="508" y="172" width="1" height="1"/>
<rect x="516" y="294" width="1" height="1"/>
<rect x="516" y="172" width="1" height="1"/>
<rect x="524" y="293" width="1" height="2"/>
<rect x="524" y="172" width="1" height="2"/>
<rect x="532" y="294" width="1" height="1"/>
<rect x="532" y="172" width="1" height="1"/>
<rect x="540" y="294" width="1" height="1"/>
<rect x="540" y="172" width="1" height="1"/>
<rect x="548" y="293" width="1" height="2"/>
<rect x="548" y="172" width="1" height="2"/>
<rect x="556" y="294" width="1" height="1"/>
<rect x="556" y="172" width="1" height="1"/>
<rect x="564" y="294" width="1" height="1"/>
<rect x="564" y="172" width="1" height="1"/>
<rect x="572" y="293" width="1" height="2"/>
<rect x="572" y="172" width="1" height="2"/>
<rect x="580" y="294" width="1" height="1"/>
<rect x="580" y="172" width="1" height="1"/>
<rect x="588" y="294" width="1" height="1"/>
<rect x="588" y="172" width="1" height="1"/>
<rect x="596" y="293" width="1" height="2"/>
<rect x="596" y="172" width="1" height="2"/>
<rect x="604" y="294" width="1" height="1"/>
<rect x="604" y="172" width="1" height="1"/>
<rect x="612" y="294" width="1" height="1"/>
<rect x="612" y="172" width="1" height="1"/>
<rect x="620" y="293" width="1" height="2"/>
<rect x="620" y="172" width="1" height="2"/>
<rect x="468" y="276" width="1" height="1"/>
<rect x="626" y="276" width="2" height="1"/>
<rect x="468" y="265" width="1" height="1"/>
<rect x="626" y="265" width="2" height="1"/>
<rect x="468" y="258" width="1" height="1"/>
<rect x="626" y="258" width="2" height="1"/>
<rect x="468" y="252" width="1" height="1"/>
<rect x="626" y="252" width="2" height="1"/>
<rect x="468" y="247" width="1" height="1"/>
<rect x="626" y="247" width="2" height="1"/>
<rect x="468" y="243" width="1" height="1"/>
<rect x="626" y="243" width="2" height="1"/>
<rect x="468" y="239" width="1" height="1"/>
<rect x="626" y="239" width="2" height="1"/>
<rect x="468" y="236" width="1" height="1"/>
<rect x="626" y="236" width="2" height="1"/>
<rect x="468" y="233" width="3" height="1"/>
<rect x="625" y="233" width="3" height="1"/>
<rect x="468" y="214" width="1" height="1"/>
<rect x="626" y="214" width="2" height="1"/>
<rect x="468" y="203" width="1" height="1"/>
<rect x="626" y="203" width="2" height="1"/>
<rect x="468" y="196" width="1" height="1"/>
<rect x="626" y="196" width="2" height="1"/>
<rect x="468" y="190" width="1" height="1"/>
<rect x="626" y="190" width="2" height="1"/>
<rect x="468" y="185" width="1" height="1"/>
<rect x="626" y="185" width="2" height="1"/>
<rect x="468" y="181" width="1" height="1"/>
<rect x="626" y="181" width="2" height="1"/>
<rect x="468" y="177" width="1" height="1"/>
<rect x="626" y="177" width="2" height="1"/>
<rect x="468" y="174" width="1" height="1"/>
<rect x="626" y="174" width="2" height="1"/>
<rect x="490" y="172" width="1" height="1"/>
<rect x="490" y="176" width="1" height="1"/>
<rect x="490" y="180" width="1" height="1"/>
<rect x="490" y="184" width="1" height="1"/>
<rect x="490" y="188" width="1" height="1"/>
<rect x="490" y="192" width="1" height="1"/>
<rect x="490" y="196" width="1" height="1"/>
<rect x="490" y="200" width="1" height="1"/>
<rect x="490" y="204" width="1" height="1"/>
<rect x="490" y="208" width="1" height="1"/>
<rect x="490" y="212" width="1" height="1"/>
<rect x="490" y="216" width="1" height="1"/>
<rect x="490" y="220" width="1" height="1"/>
<rect x="490" y="224" width="1" height="1"/>
<rect x="490" y="228" width="1" height="1"/>
<rect x="490" y="232" width="1" height="1"/>
<rect x="490" y="236" width="1" height="1"/>
<rect x="490" y="240" width="1" height="1"/>
<rect x="490" y="244" width="1" height="1"/>
<rect x="490" y="248" width="1" height="1"/>
<rect x="490" y="252" width="1" height="1"/>
<rect x="490" y="256" width="1" height="1"/>
<rect x="490" y="260" width="1" height="1"/>
<rect x="490" y="264" width="1" height="1"/>
<rect x="490" y="268" width="1" height="1"/>
<rect x="490" y="272" width="1" height="1"/>
<rect x="490" y="276" width="1" height="1"/>
<rect x="490" y="280" width="1" height="1"/>
<rect x="490" y="284" width="1" height="1"/>
<rect x="490" y="288" width="1" height="1"/>
<rect x="490" y="292" width="1" height="1"/>
<rect x="596" y="173" width="1" height="1"/>
<rect x="596" y="177" width="1" height="1"/>
<rect x="596" y="181" width="1" height="1"/>
<rect x="596" y="185" width="1" height="1"/>
<rect x="596" y="189" width="1" height="1"/>
<rect x="596" y="193" width="1" height="1"/>
<rect x="596" y="197" width="1" height="1"/>
<rect x="596" y="201" width="1" height="1"/>
<rect x="596" y="205" width="1" height="1"/>
<rect x="596" y="209" width="1" height="1"/>
<rect x="596" y="213" width="1" height="1"/>
<rect x="596" y="217" width="1" height="1"/>
<rect x="596" y="221" width="1" height="1"/>
<rect x="596" y="225" width="1" height="1"/>
<rect x="596" y="229" width="1" height="1"/>
<rect x="596" y="233" width="1" height="1"/>
<rect x="596" y="237" width="1" height="1"/>
<rect x="596" y="241" width="1" height="1"/>
<rect x="596" y="245" width="1" height="1"/>
<rect x="596" y="249" width="1" height="1"/>
<rect x="596" y="253" width="1" height="1"/>
<rect x="596" y="257" width="1" height="1"/>
<rect x="596" y="261" width="1" height="1"/>
<rect x="596" y="265" width="1" height="1"/>
<rect x="596" y="269" width="1" height="1"/>
<rect x="596" y="273" width="1" height="1"/>
<rect x="596" y="277" width="1" height="1"/>
<rect x="596" y="281" width="1" height="1"/>
<rect x="596" y="285" width="1" height="1"/>
<rect x="596" y="289" width="1" height="1"/>
<rect x="596" y="293" width="1" height="1"/>
<rect x="619" y="174" width="1" height="1"/>
<rect x="619" y="178" width="1" height="1"/>
<rect x="619" y="182" width="1" height="1"/>
<rect x="619" y="186" width="1" height="1"/>
<rect x="619" y="190" width="1" height="1"/>
<rect x="619" y="194" width="1" height="1"/>
<rect x="619" y="198" width="1" height="1"/>
<rect x="619" y="202" width="1" height="1"/>
<rect x="619" y="206" width="1" height="1"/>
<rect x="619" y="210" width="1" height="1"/>
<rect x="619" y="214" width="1" height="1"/>
<rect x="619" y="218" width="1" height="1"/>
<rect x="619" y="222" width="1" height="1"/>
<rect x="619" y="226" width="1" height="1"/>
<rect x="619" y="230" width="1" height="1"/>
<rect x="619" y="234" width="1" height="1"/>
<rect x="619" y="238" width="1" height="1"/>
<rect x="619" y="242" width="1" height="1"/>
<rect x="619" y="246" width="1" height="1"/>
<rect x="619" y="250" width="1" height="1"/>
<rect x="619" y="254" width="1" height="1"/>
<rect x="619" y="258" width="1" height="1"/>
<rect x="619" y="262" width="1" height="1"/>
<rect x="619" y="266" width="1" height="1"/>
<rect x="619" y="270" width="1" height="1"/>
<rect x="619" y="274" width="1" height="1"/>
<rect x="619" y="278" width="1" height="1"/>
<rect x="619" y="282" width="1" height="1"/>
<rect x="619" y="286" width="1" height="1"/>
<rect x="619" y="290" width="1" height="1"/>
<rect x="619" y="294" width="1" height="1"/>
<rect x="559" y="172" width="1" height="2"/>
<rect x="559" y="181" width="1" height="7"/>
<rect x="559" y="195" width="1" height="7"/>
<rect x="559" y="209" width="1" height="7"/>
<rect x="559" y="223" width="1" height="7"/>
<rect x="559" y="237" width="1" height="7"/>
<rect x="559" y="251" width="1" height="7"/>
<rect x="559" y="265" width="1" height="7"/>
<rect x="559" y="279" width="1" height="7"/>
<rect x="559" y="293" width="1" height="2"/>
<rect x="591" y="172" width="1" height="1"/>
<rect x="591" y="180" width="1" height="7"/>
<rect x="591" y="194" width="1" height="7"/>
<rect x="591" y="208" width="1" height="7"/>
<rect x="591" y="222" width="1" height="7"/>
<rect x="591" y="236" width="1" height="7"/>
<rect x="591" y="250" width="1" height="7"/>
<rect x="591" y="264" width="1" height="7"/>
<rect x="591" y="278" width="1" height="7"/>
<rect x="591" y="292" width="1" height="3"/>
<rect x="600" y="265" width="1" height="1"/>
<rect x="600" y="266" width="1" height="5"/>
<rect x="600" y="271" width="2" height="5"/>
<rect x="484" y="276" width="11" height="1"/>
<rect x="496" y="276" width="4" height="1"/>
<rect x="501" y="276" width="8" height="1"/>
<rect x="511" y="276" width="2" height="1"/>
<rect x="514" y="276" width="1" height="1"/>
<rect x="522" y="276" width="1" height="1"/>
<rect x="524" y="276" width="1" height="1"/>
<rect x="526" y="276" width="1" height="1"/>
<rect x="530" y="276" width="1" height="1"/>
<rect x="532" y="276" width="1" height="1"/>
<rect x="535" y="276" width="4" height="1"/>
<rect x="541" y="276" width="1" height="1"/>
<rect x="543" y="276" width="1" height="1"/>
<rect x="545" y="276" width="1" height="1"/>
<rect x="548" y="276" width="2" height="1"/>
<rect x="551" y="276" width="2" height="1"/>
<rect x="554" y="276" width="1" height="1"/>
<rect x="594" y="276" width="8" height="1"/>
<rect x="488" y="277" width="2" height="9"/>
<rect x="492" y="277" width="3" height="9"/>
<rect x="496" y="277" width="1" height="9"/>
<rect x="499" y="277" width="1" height="9"/>
<rect x="501" y="277" width="2" height="9"/>
<rect x="505" y="277" width="4" height="9"/>
<rect x="511" y="277" width="2" height="9"/>
<rect x="514" y="277" width="1" height="9"/>
<rect x="522" y="277" width="1" height="9"/>
<rect x="524" y="277" width="1" height="9"/>
<rect x="526" y="277" width="1" height="9"/>
<rect x="530" y="277" width="1" height="9"/>
<rect x="532" y="277" width="1" height="9"/>
<rect x="535" y="277" width="4" height="9"/>
<rect x="541" y="277" width="1" height="9"/>
<rect x="543" y="277" width="1" height="9"/>
<rect x="545" y="277" width="1" height="9"/>
<rect x="548" y="277" width="2" height="9"/>
<rect x="551" y="277" width="2" height="9"/>
<rect x="554" y="277" width="1" height="9"/>
<rect x="596" y="277" width="1" height="9"/>
<rect x="598" y="277" width="4" height="9"/>
<rect x="489" y="286" width="1" height="9"/>
<rect x="491" y="286" width="2" height="9"/>
<rect x="495" y="286" width="1" height="9"/>
<rect x="499" y="286" width="3" height="9"/>
<rect x="504" y="286" width="3" height="9"/>
<rect x="508" y="286" width="1" height="9"/>
<rect x="510" y="286" width="4" height="9"/>
<rect x="515" y="286" width="1" height="9"/>
<rect x="521" y="286" width="1" height="9"/>
<rect x="523" y="286" width="4" height="9"/>
<rect x="529" y="286" width="4" height="9"/>
<rect x="534" y="286" width="1" height="9"/>
<rect x="536" y="286" width="3" height="9"/>
<rect x="540" y="286" width="3" height="9"/>
<rect x="544" y="286" width="11" height="9"/>
<rect x="596" y="286" width="1" height="9"/>
<rect x="600" y="286" width="2" height="9"/>
<rect x="516" y="294" width="5" height="1"/>
<rect x="40" y="331" width="162" height="1"/>
<rect x="40" y="455" width="162" height="1"/>
<rect x="40" y="331" width="1" height="125"/>
<rect x="201" y="331" width="1" height="125"/>
<rect x="41" y="454" width="1" height="1"/>
<rect x="41" y="332" width="1" height="1"/>
<rect x="49" y="453" width="1" height="2"/>
<rect x="49" y="332" width="1" height="2"/>
<rect x="57" y="454" width="1" height="1"/>
<rect x="57" y="332" width="1" height="1"/>
<rect x="65" y="454" width="1" height="1"/>
<rect x="65" y="332" width="1" height="1"/>
<rect x="73" y="453" width="1" height="2"/>
<rect x="73" y="332" width="1" height="2"/>
<rect x="81" y="454" width="1" height="1"/>
<rect x="81" y="332" width="1" height="1"/>
<rect x="89" y="454" width="1" height="1"/>
<rect x="89" y="332" width="1" height="1"/>
<rect x="97" y="453" width="1" height="2"/>
<rect x="97" y="332" width="1" height="2"/>
<rect x="105" y="454" width="1" height="1"/>
<rect x="105" y="332" width="1" height="1"/>
<rect x="113" y="454" width="1" height="1"/>
<rect x="113" y="332" width="1" height="1"/>
<rect x="121" y="453" width="1" height="2"/>
<rect x="121" y="332" width="1" height="2"/>
<rect x="129" y="454" width="1" height="1"/>
<rect x="129" y="332" width="1" height="1"/>
<rect x="137" y="454" width="1" height="1"/>
<rect x="137" y="332" width="1" height="1"/>
<rect x="145" y="453" width="1" height="2"/>
<rect x="145" y="332" width="1" height="2"/>
<rect x="153" y="454" width="1" height="1"/>
<rect x="153" y="332" width="1" height="1"/>
<rect x="162" y="454" width="1" height="1"/>
<rect x="162" y="332" width="1" height="1"/>
<rect x="170" y="453" width="1" height="2"/>
<rect x="170" y="332" width="1" height="2"/>
<rect x="178" y="454" width="1" height="1"/>
<rect x="178" y="332" width="1" height="1"/>
<rect x="186" y="454" width="1" height="1"/>
<rect x="186" y="332" width="1" height="1"/>
<rect x="194" y="453" width="1" height="2"/>
<rect x="194" y="332" width="1" height="2"/>
<rect x="41" y="337" width="2" height="1"/>
<rect x="200" y="337" width="1" height="1"/>
<rect x="41" y="341" width="2" height="1"/>
<rect x="200" y="341" width="1" height="1"/>
<rect x="41" y="343" width="2" height="1"/>
<rect x="200" y="343" width="1" height="1"/>
<rect x="41" y="345" width="2" height="1"/>
<rect x="200" y="345" width="1" height="1"/>
<rect x="41" y="347" width="2" height="1"/>
<rect x="200" y="347" width="1" height="1"/>
<rect x="41" y="348" width="2" height="1"/>
<rect x="200" y="348" width="1" height="1"/>
<rect x="41" y="350" width="2" height="1"/>
<rect x="200" y="350" width="1" height="1"/>
<rect x="41" y="351" width="2" height="1"/>
<rect x="200" y="351" width="1" height="1"/>
<rect x="41" y="352" width="3" height="1"/>
<rect x="198" y="352" width="3" height="1"/>
<rect x="41" y="358" width="2" height="1"/>
<rect x="200" y="358" width="1" height="1"/>
<rect x="41" y="362" width="2" height="1"/>
<rect x="200" y="362" width="1" height="1"/>
<rect x="41" y="364" width="2" height="1"/>
<rect x="200" y="364" width="1" height="1"/>
<rect x="41" y="366" width="2" height="1"/>
<rect x="200" y="366" width="1" height="1"/>
<rect x="41" y="368" width="2" height="1"/>
<rect x="200" y="368" width="1" height="1"/>
<rect x="41" y="369" width="2" height="1"/>
<rect x="200" y="369" width="1" height="1"/>
<rect x="41" y="370" width="2" height="1"/>
<rect x="200" y="370" width="1" height="1"/>
<rect x="41" y="371" width="2" height="1"/>
<rect x="200" y="371" width="1" height="1"/>
<rect x="41" y="372" width="3" height="1"/>
<rect x="198" y="372" width="3" height="1"/>
<rect x="41" y="379" width="2" height="1"/>
<rect x="200" y="379" width="1" height="1"/>
<rect x="41" y="382" width="2" height="1"/>
<rect x="200" y="382" width="1" height="1"/>
<rect x="41" y="385" width="2" height="1"/>
<rect x="200" y="385" width="1" height="1"/>
<rect x="41" y="387" width="2" height="1"/>
<rect x="200" y="387" width="1" height="1"/>
<rect x="41" y="388" width="2" height="1"/>
<rect x="200" y="388" width="1" height="1"/>
<rect x="41" y="390" width="2" height="1"/>
<rect x="200" y="390" width="1" height="1"/>
<rect x="41" y="391" width="2" height="1"/>
<rect x="200" y="391" width="1" height="1"/>
<rect x="41" y="392" width="2" height="1"/>
<rect x="200" y="392" width="1" height="1"/>
<rect x="41" y="393" width="3" height="1"/>
<rect x="198" y="393" width="3" height="1"/>
<rect x="41" y="399" width="2" height="1"/>
<rect x="200" y="399" width="1" height="1"/>
<rect x="41" y="403" width="2" height="1"/>
<rect x="200" y="403" width="1" height="1"/>
<rect x="41" y="405" width="2" height="1"/>
<rect x="200" y="405" width="1" height="1"/>
<rect x="41" y="407" width="2" height="1"/>
<rect x="200" y="407" width="1" height="1"/>
<rect x="41" y="409" width="2" height="1"/>
<rect x="200" y="409" width="1" height="1"/>
<rect x="41" y="410" width="2" height="1"/>
<rect x="200" y="410" width="1" height="1"/>
<rect x="41" y="412" width="2" height="1"/>
<rect x="200" y="412" width="1" height="1"/>
<rect x="41" y="413" width="2" height="1"/>
<rect x="200" y="413" width="1" height="1"/>
<rect x="41" y="414" width="3" height="1"/>
<rect x="198" y="414" width="3" height="1"/>
<rect x="41" y="420" width="2" height="1"/>
<rect x="200" y="420" width="1" height="1"/>
<rect x="41" y="424" width="2" height="1"/>
<rect x="200" y="424" width="1" height="1"/>
<rect x="41" y="426" width="2" height="1"/>
<rect x="200" y="426" width="1" height="1"/>
<rect x="41" y="428" width="2" height="1"/>
<rect x="200" y="428" width="1" height="1"/>
<rect x="41" y="430" width="2" height="1"/>
<rect x="200" y="430" width="1" height="1"/>
<rect x="41" y="431" width="2" height="1"/>
<rect x="200" y="431" width="1" height="1"/>
<rect x="41" y="432" width="2" height="1"/>
<rect x="200" y="432" width="1" height="1"/>
<rect x="41" y="433" width="2" height="1"/>
<rect x="200" y="433" width="1" height="1"/>
<rect x="41" y="434" width="3" height="1"/>
<rect x="198" y="434" width="3" height="1"/>
<rect x="41" y="441" width="2" height="1"/>
<rect x="200" y="441" width="1" height="1"/>
<rect x="41" y="444" width="2" height="1"/>
<rect x="200" y="444" width="1" height="1"/>
<rect x="41" y="447" width="2" height="1"/>
<rect x="200" y="447" width="1" height="1"/>
<rect x="41" y="449" width="2" height="1"/>
<rect x="200" y="449" width="1" height="1"/>
<rect x="41" y="450" width="2" height="1"/>
<rect x="200" y="450" width="1" height="1"/>
<rect x="41" y="452" width="2" height="1"/>
<rect x="200" y="452" width="1" height="1"/>
<rect x="41" y="453" width="2" height="1"/>
<rect x="200" y="453" width="1" height="1"/>
<rect x="41" y="454" width="2" height="1"/>
<rect x="200" y="454" width="1" height="1"/>
<rect x="64" y="332" width="1" height="1"/>
<rect x="64" y="336" width="1" height="1"/>
<rect x="64" y="340" width="1" height="1"/>
<rect x="64" y="344" width="1" height="1"/>
<rect x="64" y="348" width="1" height="1"/>
<rect x="64" y="352" width="1" height="1"/>
<rect x="64" y="356" width="1" height="1"/>
<rect x="64" y="360" width="1" height="1"/>
<rect x="64" y="364" width="1" height="1"/>
<rect x="64" y="368" width="1" height="1"/>
<rect x="64" y="372" width="1" height="1"/>
<rect x="64" y="376" width="1" height="1"/>
<rect x="64" y="380" width="1" height="1"/>
<rect x="64" y="384" width="1" height="1"/>
<rect x="64" y="388" width="1" height="1"/>
<rect x="64" y="392" width="1" height="1"/>
<rect x="64" y="396" width="1" height="1"/>
<rect x="64" y="400" width="1" height="1"/>
<rect x="64" y="404" width="1" height="1"/>
<rect x="64" y="408" width="1" height="1"/>
<rect x="64" y="412" width="1" height="1"/>
<rect x="64" y="416" width="1" height="1"/>
<rect x="64" y="420" width="1" height="1"/>
<rect x="64" y="424" width="1" height="1"/>
<rect x="64" y="428" width="1" height="1"/>
<rect x="64" y="432" width="1" height="1"/>
<rect x="64" y="436" width="1" height="1"/>
<rect x="64" y="440" width="1" height="1"/>
<rect x="64" y="444" width="1" height="1"/>
<rect x="64" y="448" width="1" height="1"/>
<rect x="64" y="452" width="1" height="1"/>
<rect x="169" y="333" width="1" height="1"/>
<rect x="169" y="337" width="1" height="1"/>
<rect x="169" y="341" width="1" height="1"/>
<rect x="169" y="345" width="1" height="1"/>
<rect x="169" y="349" width="1" height="1"/>
<rect x="169" y="353" width="1" height="1"/>
<rect x="169" y="357" width="1" height="1"/>
<rect x="169" y="361" width="1" height="1"/>
<rect x="169" y="365" width="1" height="1"/>
<rect x="169" y="369" width="1" height="1"/>
<rect x="169" y="373" width="1" height="1"/>
<rect x="169" y="377" width="1" height="1"/>
<rect x="169" y="381" width="1" height="1"/>
<rect x="169" y="385" width="1" height="1"/>
<rect x="169" y="389" width="1" height="1"/>
<rect x="169" y="393" width="1" height="1"/>
<rect x="169" y="397" width="1" height="1"/>
<rect x="169" y="401" width="1" height="1"/>
<rect x="169" y="405" width="1" height="1"/>
<rect x="169" y="409" width="1" height="1"/>
<rect x="169" y="413" width="1" height="1"/>
<rect x="169" y="417" width="1" height="1"/>
<rect x="169" y="421" width="1" height="1"/>
<rect x="169" y="425" width="1" height="1"/>
<rect x="169" y="429" width="1" height="1"/>
<rect x="169" y="433" width="1" height="1"/>
<rect x="169" y="437" width="1" height="1"/>
<rect x="169" y="441" width="1" height="1"/>
<rect x="169" y="445" width="1" height="1"/>
<rect x="169" y="449" width="1" height="1"/>
<rect x="169" y="453" width="1" height="1"/>
<rect x="192" y="334" width="1" height="1"/>
<rect x="192" y="338" width="1" height="1"/>
<rect x="192" y="342" width="1" height="1"/>
<rect x="192" y="346" width="1" height="1"/>
<rect x="192" y="350" width="1" height="1"/>
<rect x="192" y="354" width="1" height="1"/>
<rect x="192" y="358" width="1" height="1"/>
<rect x="192" y="362" width="1" height="1"/>
<rect x="192" y="366" width="1" height="1"/>
<rect x="192" y="370" width="1" height="1"/>
<rect x="192" y="374" width="1" height="1"/>
<rect x="192" y="378" width="1" height="1"/>
<rect x="192" y="382" width="1" height="1"/>
<rect x="192" y="386" width="1" height="1"/>
<rect x="192" y="390" width="1" height="1"/>
<rect x="192" y="394" width="1" height="1"/>
<rect x="192" y="398" width="1" height="1"/>
<rect x="192" y="402" width="1" height="1"/>
<rect x="192" y="406" width="1" height="1"/>
<rect x="192" y="410" width="1" height="1"/>
<rect x="192" y="414" width="1" height="1"/>
<rect x="192" y="418" width="1" height="1"/>
<rect x="192" y="422" width="1" height="1"/>
<rect x="192" y="426" width="1" height="1"/>
<rect x="192" y="430" width="1" height="1"/>
<rect x="192" y="434" width="1" height="1"/>
<rect x="192" y="438" width="1" height="1"/>
<rect x="192" y="442" width="1" height="1"/>
<rect x="192" y="446" width="1" height="1"/>
<rect x="192" y="450" width="1" height="1"/>
<rect x="192" y="454" width="1" height="1"/>
<rect x="133" y="339" width="1" height="7"/>
<rect x="133" y="353" width="1" height="7"/>
<rect x="133" y="367" width="1" height="7"/>
<rect x="133" y="381" width="1" height="7"/>
<rect x="133" y="395" width="1" height="7"/>
<rect x="133" y="409" width="1" height="7"/>
<rect x="133" y="423" width="1" height="7"/>
<rect x="133" y="437" width="1" height="7"/>
<rect x="133" y="451" width="1" height="4"/>
<rect x="164" y="338" width="1" height="7"/>
<rect x="164" y="352" width="1" height="7"/>
<rect x="164" y="366" width="1" height="7"/>
<rect x="164" y="380" width="1" height="7"/>
<rect x="164" y="394" width="1" height="7"/>
<rect x="164" y="408" width="1" height="7"/>
<rect x="164" y="422" width="1" height="7"/>
<rect x="164" y="436" width="1" height="7"/>
<rect x="164" y="450" width="1" height="5"/>
<rect x="253" y="331" width="163" height="1"/>
<rect x="253" y="455" width="163" height="1"/>
<rect x="253" y="331" width="1" height="125"/>
<rect x="415" y="331" width="1" height="125"/>
<rect x="254" y="454" width="1" height="1"/>
<rect x="254" y="332" width="1" height="1"/>
<rect x="262" y="453" width="1" height="2"/>
<rect x="262" y="332" width="1" height="2"/>
<rect x="270" y="454" width="1" height="1"/>
<rect x="270" y="332" width="1" height="1"/>
<rect x="278" y="454" width="1" height="1"/>
<rect x="278" y="332" width="1" height="1"/>
<rect x="286" y="453" width="1" height="2"/>
<rect x="286" y="332" width="1" height="2"/>
<rect x="294" y="454" width="1" height="1"/>
<rect x="294" y="332" width="1" height="1"/>
<rect x="302" y="454" width="1" height="1"/>
<rect x="302" y="332" width="1" height="1"/>
<rect x="310" y="453" width="1" height="2"/>
<rect x="310" y="332" width="1" height="2"/>
<rect x="318" y="454" width="1" height="1"/>
<rect x="318" y="332" width="1" height="1"/>
<rect x="326" y="454" width="1" height="1"/>
<rect x="326" y="332" width="1" height="1"/>
<rect x="335" y="453" width="1" height="2"/>
<rect x="335" y="332" width="1" height="2"/>
<rect x="343" y="454" width="1" height="1"/>
<rect x="343" y="332" width="1" height="1"/>
<rect x="351" y="454" width="1" height="1"/>
<rect x="351" y="332" width="1" height="1"/>
<rect x="359" y="453" width="1" height="2"/>
<rect x="359" y="332" width="1" height="2"/>
<rect x="367" y="454" width="1" height="1"/>
<rect x="367" y="332" width="1" height="1"/>
<rect x="375" y="454" width="1" height="1"/>
<rect x="375" y="332" width="1" height="1"/>
<rect x="383" y="453" width="1" height="2"/>
<rect x="383" y="332" width="1" height="2"/>
<rect x="391" y="454" width="1" height="1"/>
<rect x="391" y="332" width="1" height="1"/>
<rect x="399" y="454" width="1" height="1"/>
<rect x="399" y="332" width="1" height="1"/>
<rect x="407" y="453" width="1" height="2"/>
<rect x="407" y="332" width="1" height="2"/>
<rect x="254" y="436" width="2" height="1"/>
<rect x="413" y="436" width="2" height="1"/>
<rect x="254" y="425" width="2" height="1"/>
<rect x="413" y="425" width="2" height="1"/>
<rect x="254" y="418" width="2" height="1"/>
<rect x="413" y="418" width="2" height="1"/>
<rect x="254" y="412" width="2" height="1"/>
<rect x="413" y="412" width="2" height="1"/>
<rect x="254" y="407" width="2" height="1"/>
<rect x="413" y="407" width="2" height="1"/>
<rect x="254" y="403" width="2" height="1"/>
<rect x="413" y="403" width="2" height="1"/>
<rect x="254" y="399" width="2" height="1"/>
<rect x="413" y="399" width="2" height="1"/>
<rect x="254" y="396" width="2" height="1"/>
<rect x="413" y="396" width="2" height="1"/>
<rect x="254" y="393" width="4" height="1"/>
<rect x="411" y="393" width="4" height="1"/>
<rect x="254" y="374" width="2" height="1"/>
<rect x="413" y="374" width="2" height="1"/>
<rect x="254" y="363" width="2" height="1"/>
<rect x="413" y="363" width="2" height="1"/>
<rect x="254" y="356" width="2" height="1"/>
<rect x="413" y="356" width="2" height="1"/>
<rect x="254" y="350" width="2" height="1"/>
<rect x="413" y="350" width="2" height="1"/>
<rect x="254" y="345" width="2" height="1"/>
<rect x="413" y="345" width="2" height="1"/>
<rect x="254" y="341" width="2" height="1"/>
<rect x="413" y="341" width="2" height="1"/>
<rect x="254" y="337" width="2" height="1"/>
<rect x="413" y="337" width="2" height="1"/>
<rect x="254" y="334" width="2" height="1"/>
<rect x="413" y="334" width="2" height="1"/>
<rect x="277" y="332" width="1" height="1"/>
<rect x="277" y="336" width="1" height="1"/>
<rect x="277" y="340" width="1" height="1"/>
<rect x="277" y="344" width="1" height="1"/>
<rect x="277" y="348" width="1" height="1"/>
<rect x="277" y="352" width="1" height="1"/>
<rect x="277" y="356" width="1" height="1"/>
<rect x="277" y="360" width="1" height="1"/>
<rect x="277" y="364" width="1" height="1"/>
<rect x="277" y="368" width="1" height="1"/>
<rect x="277" y="372" width="1" height="1"/>
<rect x="277" y="376" width="1" height="1"/>
<rect x="277" y="380" width="1" height="1"/>
<rect x="277" y="384" width="1" height="1"/>
<rect x="277" y="388" width="1" height="1"/>
<rect x="277" y="392" width="1" height="1"/>
<rect x="277" y="396" width="1" height="1"/>
<rect x="277" y="400" width="1" height="1"/>
<rect x="277" y="404" width="1" height="1"/>
<rect x="277" y="408" width="1" height="1"/>
<rect x="277" y="412" width="1" height="1"/>
<rect x="277" y="416" width="1" height="1"/>
<rect x="277" y="420" width="1" height="1"/>
<rect x="277" y="424" width="1" height="1"/>
<rect x="277" y="428" width="1" height="1"/>
<rect x="277" y="432" width="1" height="1"/>
<rect x="277" y="436" width="1" height="1"/>
<rect x="277" y="440" width="1" height="1"/>
<rect x="277" y="444" width="1" height="1"/>
<rect x="277" y="448" width="1" height="1"/>
<rect x="277" y="452" width="1" height="1"/>
<rect x="383" y="333" width="1" height="1"/>
<rect x="383" y="337" width="1" height="1"/>
<rect x="383" y="341" width="1" height="1"/>
<rect x="383" y="345" width="1" height="1"/>
<rect x="383" y="349" width="1" height="1"/>
<rect x="383" y="353" width="1" height="1"/>
<rect x="383" y="357" width="1" height="1"/>
<rect x="383" y="361" width="1" height="1"/>
<rect x="383" y="365" width="1" height="1"/>
<rect x="383" y="369" width="1" height="1"/>
<rect x="383" y="373" width="1" height="1"/>
<rect x="383" y="377" width="1" height="1"/>
<rect x="383" y="381" width="1" height="1"/>
<rect x="383" y="385" width="1" height="1"/>
<rect x="383" y="389" width="1" height="1"/>
<rect x="383" y="393" width="1" height="1"/>
<rect x="383" y="397" width="1" height="1"/>
<rect x="383" y="401" width="1" height="1"/>
<rect x="383" y="405" width="1" height="1"/>
<rect x="383" y="409" width="1" height="1"/>
<rect x="383" y="413" width="1" height="1"/>
<rect x="383" y="417" width="1" height="1"/>
<rect x="383" y="421" width="1" height="1"/>
<rect x="383" y="425" width="1" height="1"/>
<rect x="383" y="429" width="1" height="1"/>
<rect x="383" y="433" width="1" height="1"/>
<rect x="383" y="437" width="1" height="1"/>
<rect x="383" y="441" width="1" height="1"/>
<rect x="383" y="445" width="1" height="1"/>
<rect x="383" y="449" width="1" height="1"/>
<rect x="383" y="453" width="1" height="1"/>
<rect x="405" y="334" width="1" height="1"/>
<rect x="405" y="338" width="1" height="1"/>
<rect x="405" y="342" width="1" height="1"/>
<rect x="405" y="346" width="1" height="1"/>
<rect x="405" y="350" width="1" height="1"/>
<rect x="405" y="354" width="1" height="1"/>
<rect x="405" y="358" width="1" height="1"/>
<rect x="405" y="362" width="1" height="1"/>
<rect x="405" y="366" width="1" height="1"/>
<rect x="405" y="370" width="1" height="1"/>
<rect x="405" y="374" width="1" height="1"/>
<rect x="405" y="378" width="1" height="1"/>
<rect x="405" y="382" width="1" height="1"/>
<rect x="405" y="386" width="1" height="1"/>
<rect x="405" y="390" width="1" height="1"/>
<rect x="405" y="394" width="1" height="1"/>
<rect x="405" y="398" width="1" height="1"/>
<rect x="405" y="402" width="1" height="1"/>
<rect x="405" y="406" width="1" height="1"/>
<rect x="405" y="410" width="1" height="1"/>
<rect x="405" y="414" width="1" height="1"/>
<rect x="405" y="418" width="1" height="1"/>
<rect x="405" y="422" width="1" height="1"/>
<rect x="405" y="426" width="1" height="1"/>
<rect x="405" y="430" width="1" height="1"/>
<rect x="405" y="434" width="1" height="1"/>
<rect x="405" y="438" width="1" height="1"/>
<rect x="405" y="442" width="1" height="1"/>
<rect x="405" y="446" width="1" height="1"/>
<rect x="405" y="450" width="1" height="1"/>
<rect x="405" y="454" width="1" height="1"/>
<rect x="346" y="337" width="1" height="7"/>
<rect x="346" y="351" width="1" height="7"/>
<rect x="346" y="365" width="1" height="7"/>
<rect x="346" y="379" width="1" height="7"/>
<rect x="346" y="393" width="1" height="7"/>
<rect x="346" y="407" width="1" height="7"/>
<rect x="346" y="421" width="1" height="7"/>
<rect x="346" y="435" width="1" height="7"/>
<rect x="346" y="449" width="1" height="6"/>
<rect x="377" y="336" width="1" height="7"/>
<rect x="377" y="350" width="1" height="7"/>
<rect x="377" y="364" width="1" height="7"/>
<rect x="377" y="378" width="1" height="7"/>
<rect x="377" y="392" width="1" height="7"/>
<rect x="377" y="406" width="1" height="7"/>
<rect x="377" y="420" width="1" height="7"/>
<rect x="377" y="434" width="1" height="7"/>
<rect x="377" y="448" width="1" height="7"/>
<rect x="272" y="425" width="2" height="1"/>
<rect x="275" y="425" width="1" height="1"/>
<rect x="289" y="425" width="1" height="1"/>
<rect x="382" y="425" width="1" height="1"/>
<rect x="272" y="426" width="2" height="5"/>
<rect x="275" y="426" width="1" height="5"/>
<rect x="289" y="426" width="1" height="5"/>
<rect x="382" y="426" width="1" height="5"/>
<rect x="271" y="431" width="5" height="5"/>
<rect x="289" y="431" width="2" height="5"/>
<rect x="382" y="431" width="1" height="5"/>
<rect x="271" y="436" width="20" height="1"/>
<rect x="293" y="436" width="3" height="1"/>
<rect x="299" y="436" width="2" height="1"/>
<rect x="302" y="436" width="1" height="1"/>
<rect x="304" y="436" width="1" height="1"/>
<rect x="308" y="436" width="1" height="1"/>
<rect x="310" y="436" width="1" height="1"/>
<rect x="312" y="436" width="3" height="1"/>
<rect x="316" y="436" width="2" height="1"/>
<rect x="321" y="436" width="1" height="1"/>
<rect x="323" y="436" width="2" height="1"/>
<rect x="326" y="436" width="3" height="1"/>
<rect x="330" y="436" width="2" height="1"/>
<rect x="336" y="436" width="4" height="1"/>
<rect x="381" y="436" width="3" height="1"/>
<rect x="385" y="436" width="4" height="1"/>
<rect x="280" y="437" width="2" height="9"/>
<rect x="287" y="437" width="2" height="9"/>
<rect x="290" y="437" width="1" height="9"/>
<rect x="293" y="437" width="3" height="9"/>
<rect x="299" y="437" width="2" height="9"/>
<rect x="302" y="437" width="1" height="9"/>
<rect x="304" y="437" width="1" height="9"/>
<rect x="308" y="437" width="1" height="9"/>
<rect x="310" y="437" width="1" height="9"/>
<rect x="312" y="437" width="3" height="9"/>
<rect x="316" y="437" width="2" height="9"/>
<rect x="321" y="437" width="1" height="9"/>
<rect x="323" y="437" width="2" height="9"/>
<rect x="326" y="437" width="1" height="9"/>
<rect x="328" y="437" width="1" height="9"/>
<rect x="330" y="437" width="2" height="9"/>
<rect x="336" y="437" width="4" height="9"/>
<rect x="381" y="437" width="1" height="9"/>
<rect x="383" y="437" width="1" height="9"/>
<rect x="385" y="437" width="4" height="9"/>
<rect x="280" y="446" width="1" height="9"/>
<rect x="287" y="446" width="2" height="9"/>
<rect x="291" y="446" width="4" height="9"/>
<rect x="296" y="446" width="1" height="9"/>
<rect x="298" y="446" width="3" height="9"/>
<rect x="302" y="446" width="4" height="9"/>
<rect x="307" y="446" width="2" height="9"/>
<rect x="310" y="446" width="3" height="9"/>
<rect x="314" y="446" width="4" height="9"/>
<rect x="321" y="446" width="4" height="9"/>
<rect x="326" y="446" width="1" height="9"/>
<rect x="328" y="446" width="1" height="9"/>
<rect x="330" y="446" width="1" height="9"/>
<rect x="332" y="446" width="1" height="9"/>
<rect x="335" y="446" width="4" height="9"/>
<rect x="340" y="446" width="1" height="9"/>
<rect x="381" y="446" width="1" height="9"/>
<rect x="384" y="446" width="1" height="9"/>
<rect x="386" y="446" width="2" height="9"/>
<rect x="382" y="437" width="1" height="4"/>
<rect x="467" y="331" width="162" height="1"/>
<rect x="467" y="455" width="162" height="1"/>
<rect x="467" y="331" width="1" height="125"/>
<rect x="628" y="331" width="1" height="125"/>
<rect x="475" y="453" width="1" height="2"/>
<rect x="475" y="332" width="1" height="2"/>
<rect x="483" y="454" width="1" height="1"/>
<rect x="483" y="332" width="1" height="1"/>
<rect x="491" y="454" width="1" height="1"/>
<rect x="491" y="332" width="1" height="1"/>
<rect x="499" y="453" width="1" height="2"/>
<rect x="499" y="332" width="1" height="2"/>
<rect x="508" y="454" width="1" height="1"/>
<rect x="508" y="332" width="1" height="1"/>
<rect x="516" y="454" width="1" height="1"/>
<rect x="516" y="332" width="1" height="1"/>
<rect x="524" y="453" width="1" height="2"/>
<rect x="524" y="332" width="1" height="2"/>
<rect x="532" y="454" width="1" height="1"/>
<rect x="532" y="332" width="1" height="1"/>
<rect x="540" y="454" width="1" height="1"/>
<rect x="540" y="332" width="1" height="1"/>
<rect x="548" y="453" width="1" height="2"/>
<rect x="548" y="332" width="1" height="2"/>
<rect x="556" y="454" width="1" height="1"/>
<rect x="556" y="332" width="1" height="1"/>
<rect x="564" y="454" width="1" height="1"/>
<rect x="564" y="332" width="1" height="1"/>
<rect x="572" y="453" width="1" height="2"/>
<rect x="572" y="332" width="1" height="2"/>
<rect x="580" y="454" width="1" height="1"/>
<rect x="580" y="332" width="1" height="1"/>
<rect x="588" y="454" width="1" height="1"/>
<rect x="588" y="332" width="1" height="1"/>
<rect x="596" y="453" width="1" height="2"/>
<rect x="596" y="332" width="1" height="2"/>
<rect x="604" y="454" width="1" height="1"/>
<rect x="604" y="332" width="1" height="1"/>
<rect x="612" y="454" width="1" height="1"/>
<rect x="612" y="332" width="1" height="1"/>
<rect x="620" y="453" width="1" height="2"/>
<rect x="620" y="332" width="1" height="2"/>
<rect x="468" y="337" width="1" height="1"/>
<rect x="626" y="337" width="2" height="1"/>
<rect x="468" y="341" width="1" height="1"/>
<rect x="626" y="341" width="2" height="1"/>
<rect x="468" y="343" width="1" height="1"/>
<rect x="626" y="343" width="2" height="1"/>
<rect x="468" y="345" width="1" height="1"/>
<rect x="626" y="345" width="2" height="1"/>
<rect x="468" y="347" width="1" height="1"/>
<rect x="626" y="347" width="2" height="1"/>
<rect x="468" y="348" width="1" height="1"/>
<rect x="626" y="348" width="2" height="1"/>
<rect x="468" y="350" width="1" height="1"/>
<rect x="626" y="350" width="2" height="1"/>
<rect x="468" y="351" width="1" height="1"/>
<rect x="626" y="351" width="2" height="1"/>
<rect x="468" y="352" width="3" height="1"/>
<rect x="625" y="352" width="3" height="1"/>
<rect x="468" y="358" width="1" height="1"/>
<rect x="626" y="358" width="2" height="1"/>
<rect x="468" y="362" width="1" height="1"/>
<rect x="626" y="362" width="2" height="1"/>
<rect x="468" y="364" width="1" height="1"/>
<rect x="626" y="364" width="2" height="1"/>
<rect x="468" y="366" width="1" height="1"/>
<rect x="626" y="366" width="2" height="1"/>
<rect x="468" y="368" width="1" height="1"/>
<rect x="626" y="368" width="2" height="1"/>
<rect x="468" y="369" width="1" height="1"/>
<rect x="626" y="369" width="2" height="1"/>
<rect x="468" y="370" width="1" height="1"/>
<rect x="626" y="370" width="2" height="1"/>
<rect x="468" y="371" width="1" height="1"/>
<rect x="626" y="371" width="2" height="1"/>
<rect x="468" y="372" width="3" height="1"/>
<rect x="625" y="372" width="3" height="1"/>
<rect x="468" y="379" width="1" height="1"/>
<rect x="626" y="379" width="2" height="1"/>
<rect x="468" y="382" width="1" height="1"/>
<rect x="626" y="382" width="2" height="1"/>
<rect x="468" y="385" width="1" height="1"/>
<rect x="626" y="385" width="2" height="1"/>
<rect x="468" y="387" width="1" height="1"/>
<rect x="626" y="387" width="2" height="1"/>
<rect x="468" y="388" width="1" height="1"/>
<rect x="626" y="388" width="2" height="1"/>
<rect x="468" y="390" width="1" height="1"/>
<rect x="626" y="390" width="2" height="1"/>
<rect x="468" y="391" width="1" height="1"/>
<rect x="626" y="391" width="2" height="1"/>
<rect x="468" y="392" width="1" height="1"/>
<rect x="626" y="392" width="2" height="1"/>
<rect x="468" y="393" width="3" height="1"/>
<rect x="625" y="393" width="3" height="1"/>
<rect x="468" y="399" width="1" height="1"/>
<rect x="626" y="399" width="2" height="1"/>
<rect x="468" y="403" width="1" height="1"/>
<rect x="626" y="403" width="2" height="1"/>
<rect x="468" y="405" width="1" height="1"/>
<rect x="626" y="405" width="2" height="1"/>
<rect x="468" y="407" width="1" height="1"/>
<rect x="626" y="407" width="2" height="1"/>
<rect x="468" y="409" width="1" height="1"/>
<rect x="626" y="409" width="2" height="1"/>
<rect x="468" y="410" width="1" height="1"/>
<rect x="626" y="410" width="2" height="1"/>
<rect x="468" y="412" width="1" height="1"/>
<rect x="626" y="412" width="2" height="1"/>
<rect x="468" y="413" width="1" height="1"/>
<rect x="626" y="413" width="2" height="1"/>
<rect x="468" y="414" width="3" height="1"/>
<rect x="625" y="414" width="3" height="1"/>
<rect x="468" y="420" width="1" height="1"/>
<rect x="626" y="420" width="2" height="1"/>
<rect x="468" y="424" width="1" height="1"/>
<rect x="626" y="424" width="2" height="1"/>
<rect x="468" y="426" width="1" height="1"/>
<rect x="626" y="426" width="2" height="1"/>
<rect x="468" y="428" width="1" height="1"/>
<rect x="626" y="428" width="2" height="1"/>
<rect x="468" y="430" width="1" height="1"/>
<rect x="626" y="430" width="2" height="1"/>
<rect x="468" y="431" width="1" height="1"/>
<rect x="626" y="431" width="2" height="1"/>
<rect x="468" y="432" width="1" height="1"/>
<rect x="626" y="432" width="2" height="1"/>
<rect x="468" y="433" width="1" height="1"/>
<rect x="626" y="433" width="2" height="1"/>
<rect x="468" y="434" width="3" height="1"/>
<rect x="625" y="434" width="3" height="1"/>
<rect x="468" y="441" width="1" height="1"/>
<rect x="626" y="441" width="2" height="1"/>
<rect x="468" y="444" width="1" height="1"/>
<rect x="626" y="444" width="2" height="1"/>
<rect x="468" y="447" width="1" height="1"/>
<rect x="626" y="447" width="2" height="1"/>
<rect x="468" y="449" width="1" height="1"/>
<rect x="626" y="449" width="2" height="1"/>
<rect x="468" y="450" width="1" height="1"/>
<rect x="626" y="450" width="2" height="1"/>
<rect x="468" y="452" width="1" height="1"/>
<rect x="626" y="452" width="2" height="1"/>
<rect x="468" y="453" width="1" height="1"/>
<rect x="626" y="453" width="2" height="1"/>
<rect x="468" y="454" width="1" height="1"/>
<rect x="626" y="454" width="2" height="1"/>
<rect x="490" y="332" width="1" height="1"/>
<rect x="490" y="336" width="1" height="1"/>
<rect x="490" y="340" width="1" height="1"/>
<rect x="490" y="344" width="1" height="1"/>
<rect x="490" y="348" width="1" height="1"/>
<rect x="490" y="352" width="1" height="1"/>
<rect x="490" y="356" width="1" height="1"/>
<rect x="490" y="360" width="1" height="1"/>
<rect x="490" y="364" width="1" height="1"/>
<rect x="490" y="368" width="1" height="1"/>
<rect x="490" y="372" width="1" height="1"/>
<rect x="490" y="376" width="1" height="1"/>
<rect x="490" y="380" width="1" height="1"/>
<rect x="490" y="384" width="1" height="1"/>
<rect x="490" y="388" width="1" height="1"/>
<rect x="490" y="392" width="1" height="1"/>
<rect x="490" y="396" width="1" height="1"/>
<rect x="490" y="400" width="1" height="1"/>
<rect x="490" y="404" width="1" height="1"/>
<rect x="490" y="408" width="1" height="1"/>
<rect x="490" y="412" width="1" height="1"/>
<rect x="490" y="416" width="1" height="1"/>
<rect x="490" y="420" width="1" height="1"/>
<rect x="490" y="424" width="1" height="1"/>
<rect x="490" y="428" width="1" height="1"/>
<rect x="490" y="432" width="1" height="1"/>
<rect x="490" y="436" width="1" height="1"/>
<rect x="490" y="440" width="1" height="1"/>
<rect x="490" y="444" width="1" height="1"/>
<rect x="490" y="448" width="1" height="1"/>
<rect x="490" y="452" width="1" height="1"/>
<rect x="596" y="333" width="1" height="1"/>
<rect x="596" y="337" width="1" height="1"/>
<rect x="596" y="341" width="1" height="1"/>
<rect x="596" y="345" width="1" height="1"/>
<rect x="596" y="349" width="1" height="1"/>
<rect x="596" y="353" width="1" height="1"/>
<rect x="596" y="357" width="1" height="1"/>
<rect x="596" y="361" width="1" height="1"/>
<rect x="596" y="365" width="1" height="1"/>
<rect x="596" y="369" width="1" height="1"/>
<rect x="596" y="373" width="1" height="1"/>
<rect x="596" y="377" width="1" height="1"/>
<rect x="596" y="381" width="1" height="1"/>
<rect x="596" y="385" width="1" height="1"/>
<rect x="596" y="389" width="1" height="1"/>
<rect x="596" y="393" width="1" height="1"/>
<rect x="596" y="397" width="1" height="1"/>
<rect x="596" y="401" width="1" height="1"/>
<rect x="596" y="405" width="1" height="1"/>
<rect x="596" y="409" width="1" height="1"/>
<rect x="596" y="413" width="1" height="1"/>
<rect x="596" y="417" width="1" height="1"/>
<rect x="596" y="421" width="1" height="1"/>
<rect x="596" y="425" width="1" height="1"/>
<rect x="596" y="429" width="1" height="1"/>
<rect x="596" y="433" width="1" height="1"/>
<rect x="596" y="437" width="1" height="1"/>
<rect x="596" y="441" width="1" height="1"/>
<rect x="596" y="445" width="1" height="1"/>
<rect x="596" y="449" width="1" height="1"/>
<rect x="596" y="453" width="1" height="1"/>
<rect x="619" y="334" width="1" height="1"/>
<rect x="619" y="338" width="1" height="1"/>
<rect x="619" y="342" width="1" height="1"/>
<rect x="619" y="346" width="1" height="1"/>
<rect x="619" y="350" width="1" height="1"/>
<rect x="619" y="354" width="1" height="1"/>
<rect x="619" y="358" width="1" height="1"/>
<rect x="619" y="362" width="1" height="1"/>
<rect x="619" y="366" width="1" height="1"/>
<rect x="619" y="370" width="1" height="1"/>
<rect x="619" y="374" width="1" height="1"/>
<rect x="619" y="378" width="1" height="1"/>
<rect x="619" y="382" width="1" height="1"/>
<rect x="619" y="386" width="1" height="1"/>
<rect x="619" y="390" width="1" height="1"/>
<rect x="619" y="394" width="1" height="1"/>
<rect x="619" y="398" width="1" height="1"/>
<rect x="619" y="402" width="1" height="1"/>
<rect x="619" y="406" width="1" height="1"/>
<rect x="619" y="410" width="1" height="1"/>
<rect x="619" y="414" width="1" height="1"/>
<rect x="619" y="418" width="1" height="1"/>
<rect x="619" y="422" width="1" height="1"/>
<rect x="619" y="426" width="1" height="1"/>
<rect x="619" y="430" width="1" height="1"/>
<rect x="619" y="434" width="1" height="1"/>
<rect x="619" y="438" width="1" height="1"/>
<rect x="619" y="442" width="1" height="1"/>
<rect x="619" y="446" width="1" height="1"/>
<rect x="619" y="450" width="1" height="1"/>
<rect x="619" y="454" width="1" height="1"/>
<rect x="559" y="335" width="1" height="7"/>
<rect x="559" y="349" width="1" height="7"/>
<rect x="559" y="363" width="1" height="7"/>
<rect x="559" y="377" width="1" height="7"/>
<rect x="559" y="391" width="1" height="7"/>
<rect x="559" y="405" width="1" height="7"/>
<rect x="559" y="419" width="1" height="7"/>
<rect x="559" y="433" width="1" height="7"/>
<rect x="559" y="447" width="1" height="7"/>
<rect x="591" y="334" width="1" height="7"/>
<rect x="591" y="348" width="1" height="7"/>
<rect x="591" y="362" width="1" height="7"/>
<rect x="591" y="376" width="1" height="7"/>
<rect x="591" y="390" width="1" height="7"/>
<rect x="591" y="404" width="1" height="7"/>
<rect x="591" y="418" width="1" height="7"/>
<rect x="591" y="432" width="1" height="7"/>
<rect x="591" y="446" width="1" height="7"/>
</g>
<defs><filter id="crisp" x="0" y="0" width="640" height="480" filterUnits="userSpaceOnUse" color-interpolation-filters="sRGB"><feComponentTransfer><feFuncA type="table" tableValues="0 0.15 1 1"/></feComponentTransfer></filter></defs>
<g filter="url(#crisp)">
<text x="41.05" y="21" font-size="13.8" text-anchor="start" textLength="8.0" lengthAdjust="spacingAndGlyphs" class="big">E</text>
<text x="134.5" y="21" font-size="13.8" text-anchor="start" textLength="7.6" lengthAdjust="spacingAndGlyphs" class="big">S</text>
<text x="170.05" y="21" font-size="13.8" text-anchor="start" textLength="8.0" lengthAdjust="spacingAndGlyphs" class="big">E</text>
<text y="8" font-size="8.4"><tspan x="45.5" textLength="13.9" lengthAdjust="spacingAndGlyphs">Det</tspan> <tspan x="64.0" textLength="8.3" lengthAdjust="spacingAndGlyphs">1r</tspan> <tspan x="76.6" textLength="25.2" lengthAdjust="spacingAndGlyphs">BLACK</tspan> <tspan x="106.4" textLength="6.2" lengthAdjust="spacingAndGlyphs">=</tspan> <tspan x="117.0" textLength="28.4" lengthAdjust="spacingAndGlyphs">Events,</tspan> <tspan x="150.0" textLength="16.2" lengthAdjust="spacingAndGlyphs">RED</tspan> <tspan x="170.2" textLength="6.6" lengthAdjust="spacingAndGlyphs">=</tspan> <tspan x="181.0" textLength="14.8" lengthAdjust="spacingAndGlyphs">LLD</tspan></text>
<text x="39.5" y="145" font-size="7.2" text-anchor="start" textLength="19.2" lengthAdjust="spacingAndGlyphs">17:30</text>
<text x="63.7" y="145" font-size="7.2" text-anchor="start" textLength="19.2" lengthAdjust="spacingAndGlyphs">17:45</text>
<text x="87.9" y="145" font-size="7.2" text-anchor="start" textLength="19.2" lengthAdjust="spacingAndGlyphs">18:00</text>
<text x="112.1" y="145" font-size="7.2" text-anchor="start" textLength="19.2" lengthAdjust="spacingAndGlyphs">18:15</text>
<text x="136.3" y="145" font-size="7.2" text-anchor="start" textLength="19.2" lengthAdjust="spacingAndGlyphs">18:30</text>
<text x="160.5" y="145" font-size="7.2" text-anchor="start" textLength="19.2" lengthAdjust="spacingAndGlyphs">18:45</text>
<text x="184.7" y="145" font-size="7.2" text-anchor="start" textLength="19.2" lengthAdjust="spacingAndGlyphs">19:00</text>
<text y="153" font-size="8.4"><tspan x="63.0" textLength="14.0" lengthAdjust="spacingAndGlyphs">Start</tspan> <tspan x="82.3" textLength="14.7" lengthAdjust="spacingAndGlyphs">Time</tspan> <tspan x="101.0" textLength="41.6" lengthAdjust="spacingAndGlyphs">(25-May-17</tspan> <tspan x="148.8" textLength="30.2" lengthAdjust="spacingAndGlyphs">17:24:40)</tspan></text>
<text transform="translate(20.6,92.7) rotate(-90)" font-size="7.8" textLength="38.5" lengthAdjust="spacingAndGlyphs">Counts/sec</text>
<text x="25.8" y="16" font-size="7.2" text-anchor="start" textLength="12.4" lengthAdjust="spacingAndGlyphs">100</text>
<text x="30.8" y="76" font-size="7.2" text-anchor="start" textLength="7.4" lengthAdjust="spacingAndGlyphs">10</text>
<text x="34.8" y="136" font-size="7.2" text-anchor="start">1</text>
<text x="254.05" y="125" font-size="13.8" text-anchor="start" textLength="8.0" lengthAdjust="spacingAndGlyphs" class="big">E</text>
<text x="347.5" y="125" font-size="13.8" text-anchor="start" textLength="7.6" lengthAdjust="spacingAndGlyphs" class="big">S</text>
<text x="383.05" y="125" font-size="13.8" text-anchor="start" textLength="8.0" lengthAdjust="spacingAndGlyphs" class="big">E</text>
<text y="8" font-size="8.4"><tspan x="258.83" textLength="13.9" lengthAdjust="spacingAndGlyphs">Det</tspan> <tspan x="277.33" textLength="8.3" lengthAdjust="spacingAndGlyphs">2r</tspan> <tspan x="289.93" textLength="25.2" lengthAdjust="spacingAndGlyphs">BLACK</tspan> <tspan x="319.73" textLength="6.2" lengthAdjust="spacingAndGlyphs">=</tspan> <tspan x="330.33" textLength="28.4" lengthAdjust="spacingAndGlyphs">Events,</tspan> <tspan x="363.33" textLength="16.2" lengthAdjust="spacingAndGlyphs">RED</tspan> <tspan x="383.53" textLength="6.6" lengthAdjust="spacingAndGlyphs">=</tspan> <tspan x="394.33" textLength="14.8" lengthAdjust="spacingAndGlyphs">LLD</tspan></text>
<text x="252.8" y="145" font-size="7.2" text-anchor="start" textLength="19.2" lengthAdjust="spacingAndGlyphs">17:30</text>
<text x="277.0" y="145" font-size="7.2" text-anchor="start" textLength="19.2" lengthAdjust="spacingAndGlyphs">17:45</text>
<text x="301.2" y="145" font-size="7.2" text-anchor="start" textLength="19.2" lengthAdjust="spacingAndGlyphs">18:00</text>
<text x="325.4" y="145" font-size="7.2" text-anchor="start" textLength="19.2" lengthAdjust="spacingAndGlyphs">18:15</text>
<text x="349.6" y="145" font-size="7.2" text-anchor="start" textLength="19.2" lengthAdjust="spacingAndGlyphs">18:30</text>
<text x="373.8" y="145" font-size="7.2" text-anchor="start" textLength="19.2" lengthAdjust="spacingAndGlyphs">18:45</text>
<text x="398.0" y="145" font-size="7.2" text-anchor="start" textLength="19.2" lengthAdjust="spacingAndGlyphs">19:00</text>
<text y="153" font-size="8.4"><tspan x="276.33" textLength="14.0" lengthAdjust="spacingAndGlyphs">Start</tspan> <tspan x="295.63" textLength="14.7" lengthAdjust="spacingAndGlyphs">Time</tspan> <tspan x="314.33" textLength="41.6" lengthAdjust="spacingAndGlyphs">(25-May-17</tspan> <tspan x="362.13" textLength="30.2" lengthAdjust="spacingAndGlyphs">17:24:40)</tspan></text>
<text transform="translate(232.13,92.7) rotate(-90)" font-size="7.8" textLength="38.5" lengthAdjust="spacingAndGlyphs">Counts/sec</text>
<text x="251.33" y="16" font-size="7.2" text-anchor="end">10<tspan dy="-2.6" font-size="5.2">-6</tspan></text>
<text x="251.33" y="35" font-size="7.2" text-anchor="end">10<tspan dy="-2.6" font-size="5.2">-5</tspan></text>
<text x="251.33" y="55" font-size="7.2" text-anchor="end">10<tspan dy="-2.6" font-size="5.2">-4</tspan></text>
<text x="251.33" y="76" font-size="7.2" text-anchor="end">10<tspan dy="-2.6" font-size="5.2">-3</tspan></text>
<text x="251.33" y="97" font-size="7.2" text-anchor="end">10<tspan dy="-2.6" font-size="5.2">-2</tspan></text>
<text x="251.33" y="117" font-size="7.2" text-anchor="end">10<tspan dy="-2.6" font-size="5.2">-1</tspan></text>
<text x="251.03" y="136" font-size="7.2" text-anchor="end">10<tspan dy="-2.6" font-size="5.2">0</tspan></text>
<text x="467.05" y="21" font-size="13.8" text-anchor="start" textLength="8.0" lengthAdjust="spacingAndGlyphs" class="big">E</text>
<text x="560.5" y="21" font-size="13.8" text-anchor="start" textLength="7.6" lengthAdjust="spacingAndGlyphs" class="big">S</text>
<text x="596.05" y="21" font-size="13.8" text-anchor="start" textLength="8.0" lengthAdjust="spacingAndGlyphs" class="big">E</text>
<text y="8" font-size="8.4"><tspan x="472.17" textLength="13.9" lengthAdjust="spacingAndGlyphs">Det</tspan> <tspan x="490.67" textLength="8.3" lengthAdjust="spacingAndGlyphs">3r</tspan> <tspan x="503.27" textLength="25.2" lengthAdjust="spacingAndGlyphs">BLACK</tspan> <tspan x="533.07" textLength="6.2" lengthAdjust="spacingAndGlyphs">=</tspan> <tspan x="543.67" textLength="28.4" lengthAdjust="spacingAndGlyphs">Events,</tspan> <tspan x="576.67" textLength="16.2" lengthAdjust="spacingAndGlyphs">RED</tspan> <tspan x="596.87" textLength="6.6" lengthAdjust="spacingAndGlyphs">=</tspan> <tspan x="607.67" textLength="14.8" lengthAdjust="spacingAndGlyphs">LLD</tspan></text>
<text x="466.2" y="145" font-size="7.2" text-anchor="start" textLength="19.2" lengthAdjust="spacingAndGlyphs">17:30</text>
<text x="490.4" y="145" font-size="7.2" text-anchor="start" textLength="19.2" lengthAdjust="spacingAndGlyphs">17:45</text>
<text x="514.6" y="145" font-size="7.2" text-anchor="start" textLength="19.2" lengthAdjust="spacingAndGlyphs">18:00</text>
<text x="538.8" y="145" font-size="7.2" text-anchor="start" textLength="19.2" lengthAdjust="spacingAndGlyphs">18:15</text>
<text x="563.0" y="145" font-size="7.2" text-anchor="start" textLength="19.2" lengthAdjust="spacingAndGlyphs">18:30</text>
<text x="587.2" y="145" font-size="7.2" text-anchor="start" textLength="19.2" lengthAdjust="spacingAndGlyphs">18:45</text>
<text x="611.4" y="145" font-size="7.2" text-anchor="start" textLength="19.2" lengthAdjust="spacingAndGlyphs">19:00</text>
<text y="153" font-size="8.4"><tspan x="489.67" textLength="14.0" lengthAdjust="spacingAndGlyphs">Start</tspan> <tspan x="508.97" textLength="14.7" lengthAdjust="spacingAndGlyphs">Time</tspan> <tspan x="527.67" textLength="41.6" lengthAdjust="spacingAndGlyphs">(25-May-17</tspan> <tspan x="575.47" textLength="30.2" lengthAdjust="spacingAndGlyphs">17:24:40)</tspan></text>
<text transform="translate(447.27,92.7) rotate(-90)" font-size="7.8" textLength="38.5" lengthAdjust="spacingAndGlyphs">Counts/sec</text>
<text x="452.47" y="16" font-size="7.2" text-anchor="start" textLength="12.4" lengthAdjust="spacingAndGlyphs">100</text>
<text x="457.47" y="76" font-size="7.2" text-anchor="start" textLength="7.4" lengthAdjust="spacingAndGlyphs">10</text>
<text x="461.47" y="136" font-size="7.2" text-anchor="start">1</text>
<text x="41.05" y="285" font-size="13.8" text-anchor="start" textLength="8.0" lengthAdjust="spacingAndGlyphs" class="big">E</text>
<text x="134.5" y="285" font-size="13.8" text-anchor="start" textLength="7.6" lengthAdjust="spacingAndGlyphs" class="big">S</text>
<text x="170.05" y="285" font-size="13.8" text-anchor="start" textLength="8.0" lengthAdjust="spacingAndGlyphs" class="big">E</text>
<text y="168" font-size="8.4"><tspan x="45.5" textLength="13.9" lengthAdjust="spacingAndGlyphs">Det</tspan> <tspan x="64.0" textLength="8.3" lengthAdjust="spacingAndGlyphs">4r</tspan> <tspan x="76.6" textLength="25.2" lengthAdjust="spacingAndGlyphs">BLACK</tspan> <tspan x="106.4" textLength="6.2" lengthAdjust="spacingAndGlyphs">=</tspan> <tspan x="117.0" textLength="28.4" lengthAdjust="spacingAndGlyphs">Events,</tspan> <tspan x="150.0" textLength="16.2" lengthAdjust="spacingAndGlyphs">RED</tspan> <tspan x="170.2" textLength="6.6" lengthAdjust="spacingAndGlyphs">=</tspan> <tspan x="181.0" textLength="14.8" lengthAdjust="spacingAndGlyphs">LLD</tspan></text>
<text x="39.5" y="305" font-size="7.2" text-anchor="start" textLength="19.2" lengthAdjust="spacingAndGlyphs">17:30</text>
<text x="63.7" y="305" font-size="7.2" text-anchor="start" textLength="19.2" lengthAdjust="spacingAndGlyphs">17:45</text>
<text x="87.9" y="305" font-size="7.2" text-anchor="start" textLength="19.2" lengthAdjust="spacingAndGlyphs">18:00</text>
<text x="112.1" y="305" font-size="7.2" text-anchor="start" textLength="19.2" lengthAdjust="spacingAndGlyphs">18:15</text>
<text x="136.3" y="305" font-size="7.2" text-anchor="start" textLength="19.2" lengthAdjust="spacingAndGlyphs">18:30</text>
<text x="160.5" y="305" font-size="7.2" text-anchor="start" textLength="19.2" lengthAdjust="spacingAndGlyphs">18:45</text>
<text x="184.7" y="305" font-size="7.2" text-anchor="start" textLength="19.2" lengthAdjust="spacingAndGlyphs">19:00</text>
<text y="313" font-size="8.4"><tspan x="63.0" textLength="14.0" lengthAdjust="spacingAndGlyphs">Start</tspan> <tspan x="82.3" textLength="14.7" lengthAdjust="spacingAndGlyphs">Time</tspan> <tspan x="101.0" textLength="41.6" lengthAdjust="spacingAndGlyphs">(25-May-17</tspan> <tspan x="148.8" textLength="30.2" lengthAdjust="spacingAndGlyphs">17:24:40)</tspan></text>
<text transform="translate(18.8,252.7) rotate(-90)" font-size="7.8" textLength="38.5" lengthAdjust="spacingAndGlyphs">Counts/sec</text>
<text x="38.0" y="176" font-size="7.2" text-anchor="end">10<tspan dy="-2.6" font-size="5.2">-6</tspan></text>
<text x="38.0" y="195" font-size="7.2" text-anchor="end">10<tspan dy="-2.6" font-size="5.2">-5</tspan></text>
<text x="38.0" y="215" font-size="7.2" text-anchor="end">10<tspan dy="-2.6" font-size="5.2">-4</tspan></text>
<text x="38.0" y="236" font-size="7.2" text-anchor="end">10<tspan dy="-2.6" font-size="5.2">-3</tspan></text>
<text x="38.0" y="257" font-size="7.2" text-anchor="end">10<tspan dy="-2.6" font-size="5.2">-2</tspan></text>
<text x="38.0" y="277" font-size="7.2" text-anchor="end">10<tspan dy="-2.6" font-size="5.2">-1</tspan></text>
<text x="37.7" y="296" font-size="7.2" text-anchor="end">10<tspan dy="-2.6" font-size="5.2">0</tspan></text>
<text x="254.05" y="285" font-size="13.8" text-anchor="start" textLength="8.0" lengthAdjust="spacingAndGlyphs" class="big">E</text>
<text x="347.5" y="285" font-size="13.8" text-anchor="start" textLength="7.6" lengthAdjust="spacingAndGlyphs" class="big">S</text>
<text x="383.05" y="285" font-size="13.8" text-anchor="start" textLength="8.0" lengthAdjust="spacingAndGlyphs" class="big">E</text>
<text y="168" font-size="8.4"><tspan x="258.83" textLength="13.9" lengthAdjust="spacingAndGlyphs">Det</tspan> <tspan x="277.33" textLength="8.3" lengthAdjust="spacingAndGlyphs">5r</tspan> <tspan x="289.93" textLength="25.2" lengthAdjust="spacingAndGlyphs">BLACK</tspan> <tspan x="319.73" textLength="6.2" lengthAdjust="spacingAndGlyphs">=</tspan> <tspan x="330.33" textLength="28.4" lengthAdjust="spacingAndGlyphs">Events,</tspan> <tspan x="363.33" textLength="16.2" lengthAdjust="spacingAndGlyphs">RED</tspan> <tspan x="383.53" textLength="6.6" lengthAdjust="spacingAndGlyphs">=</tspan> <tspan x="394.33" textLength="14.8" lengthAdjust="spacingAndGlyphs">LLD</tspan></text>
<text x="252.8" y="305" font-size="7.2" text-anchor="start" textLength="19.2" lengthAdjust="spacingAndGlyphs">17:30</text>
<text x="277.0" y="305" font-size="7.2" text-anchor="start" textLength="19.2" lengthAdjust="spacingAndGlyphs">17:45</text>
<text x="301.2" y="305" font-size="7.2" text-anchor="start" textLength="19.2" lengthAdjust="spacingAndGlyphs">18:00</text>
<text x="325.4" y="305" font-size="7.2" text-anchor="start" textLength="19.2" lengthAdjust="spacingAndGlyphs">18:15</text>
<text x="349.6" y="305" font-size="7.2" text-anchor="start" textLength="19.2" lengthAdjust="spacingAndGlyphs">18:30</text>
<text x="373.8" y="305" font-size="7.2" text-anchor="start" textLength="19.2" lengthAdjust="spacingAndGlyphs">18:45</text>
<text x="398.0" y="305" font-size="7.2" text-anchor="start" textLength="19.2" lengthAdjust="spacingAndGlyphs">19:00</text>
<text y="313" font-size="8.4"><tspan x="276.33" textLength="14.0" lengthAdjust="spacingAndGlyphs">Start</tspan> <tspan x="295.63" textLength="14.7" lengthAdjust="spacingAndGlyphs">Time</tspan> <tspan x="314.33" textLength="41.6" lengthAdjust="spacingAndGlyphs">(25-May-17</tspan> <tspan x="362.13" textLength="30.2" lengthAdjust="spacingAndGlyphs">17:24:40)</tspan></text>
<text transform="translate(232.13,252.7) rotate(-90)" font-size="7.8" textLength="38.5" lengthAdjust="spacingAndGlyphs">Counts/sec</text>
<text x="251.33" y="176" font-size="7.2" text-anchor="end">10<tspan dy="-2.6" font-size="5.2">-6</tspan></text>
<text x="251.33" y="195" font-size="7.2" text-anchor="end">10<tspan dy="-2.6" font-size="5.2">-5</tspan></text>
<text x="251.33" y="215" font-size="7.2" text-anchor="end">10<tspan dy="-2.6" font-size="5.2">-4</tspan></text>
<text x="251.33" y="236" font-size="7.2" text-anchor="end">10<tspan dy="-2.6" font-size="5.2">-3</tspan></text>
<text x="251.33" y="257" font-size="7.2" text-anchor="end">10<tspan dy="-2.6" font-size="5.2">-2</tspan></text>
<text x="251.33" y="277" font-size="7.2" text-anchor="end">10<tspan dy="-2.6" font-size="5.2">-1</tspan></text>
<text x="251.03" y="296" font-size="7.2" text-anchor="end">10<tspan dy="-2.6" font-size="5.2">0</tspan></text>
<text x="467.05" y="181" font-size="13.8" text-anchor="start" textLength="8.0" lengthAdjust="spacingAndGlyphs" class="big">E</text>
<text x="560.5" y="181" font-size="13.8" text-anchor="start" textLength="7.6" lengthAdjust="spacingAndGlyphs" class="big">S</text>
<text x="596.05" y="181" font-size="13.8" text-anchor="start" textLength="8.0" lengthAdjust="spacingAndGlyphs" class="big">E</text>
<text y="168" font-size="8.4"><tspan x="472.17" textLength="13.9" lengthAdjust="spacingAndGlyphs">Det</tspan> <tspan x="490.67" textLength="8.3" lengthAdjust="spacingAndGlyphs">6r</tspan> <tspan x="503.27" textLength="25.2" lengthAdjust="spacingAndGlyphs">BLACK</tspan> <tspan x="533.07" textLength="6.2" lengthAdjust="spacingAndGlyphs">=</tspan> <tspan x="543.67" textLength="28.4" lengthAdjust="spacingAndGlyphs">Events,</tspan> <tspan x="576.67" textLength="16.2" lengthAdjust="spacingAndGlyphs">RED</tspan> <tspan x="596.87" textLength="6.6" lengthAdjust="spacingAndGlyphs">=</tspan> <tspan x="607.67" textLength="14.8" lengthAdjust="spacingAndGlyphs">LLD</tspan></text>
<text x="466.2" y="305" font-size="7.2" text-anchor="start" textLength="19.2" lengthAdjust="spacingAndGlyphs">17:30</text>
<text x="490.4" y="305" font-size="7.2" text-anchor="start" textLength="19.2" lengthAdjust="spacingAndGlyphs">17:45</text>
<text x="514.6" y="305" font-size="7.2" text-anchor="start" textLength="19.2" lengthAdjust="spacingAndGlyphs">18:00</text>
<text x="538.8" y="305" font-size="7.2" text-anchor="start" textLength="19.2" lengthAdjust="spacingAndGlyphs">18:15</text>
<text x="563.0" y="305" font-size="7.2" text-anchor="start" textLength="19.2" lengthAdjust="spacingAndGlyphs">18:30</text>
<text x="587.2" y="305" font-size="7.2" text-anchor="start" textLength="19.2" lengthAdjust="spacingAndGlyphs">18:45</text>
<text x="611.4" y="305" font-size="7.2" text-anchor="start" textLength="19.2" lengthAdjust="spacingAndGlyphs">19:00</text>
<text y="313" font-size="8.4"><tspan x="489.67" textLength="14.0" lengthAdjust="spacingAndGlyphs">Start</tspan> <tspan x="508.97" textLength="14.7" lengthAdjust="spacingAndGlyphs">Time</tspan> <tspan x="527.67" textLength="41.6" lengthAdjust="spacingAndGlyphs">(25-May-17</tspan> <tspan x="575.47" textLength="30.2" lengthAdjust="spacingAndGlyphs">17:24:40)</tspan></text>
<text transform="translate(447.27,252.7) rotate(-90)" font-size="7.8" textLength="38.5" lengthAdjust="spacingAndGlyphs">Counts/sec</text>
<text x="452.47" y="176" font-size="7.2" text-anchor="start" textLength="12.4" lengthAdjust="spacingAndGlyphs">100</text>
<text x="457.47" y="236" font-size="7.2" text-anchor="start" textLength="7.4" lengthAdjust="spacingAndGlyphs">10</text>
<text x="461.47" y="296" font-size="7.2" text-anchor="start">1</text>
<text x="41.05" y="445" font-size="13.8" text-anchor="start" textLength="8.0" lengthAdjust="spacingAndGlyphs" class="big">E</text>
<text x="134.5" y="445" font-size="13.8" text-anchor="start" textLength="7.6" lengthAdjust="spacingAndGlyphs" class="big">S</text>
<text x="170.05" y="445" font-size="13.8" text-anchor="start" textLength="8.0" lengthAdjust="spacingAndGlyphs" class="big">E</text>
<text y="328" font-size="8.4"><tspan x="45.5" textLength="13.9" lengthAdjust="spacingAndGlyphs">Det</tspan> <tspan x="64.0" textLength="8.3" lengthAdjust="spacingAndGlyphs">7r</tspan> <tspan x="76.6" textLength="25.2" lengthAdjust="spacingAndGlyphs">BLACK</tspan> <tspan x="106.4" textLength="6.2" lengthAdjust="spacingAndGlyphs">=</tspan> <tspan x="117.0" textLength="28.4" lengthAdjust="spacingAndGlyphs">Events,</tspan> <tspan x="150.0" textLength="16.2" lengthAdjust="spacingAndGlyphs">RED</tspan> <tspan x="170.2" textLength="6.6" lengthAdjust="spacingAndGlyphs">=</tspan> <tspan x="181.0" textLength="14.8" lengthAdjust="spacingAndGlyphs">LLD</tspan></text>
<text x="39.5" y="465" font-size="7.2" text-anchor="start" textLength="19.2" lengthAdjust="spacingAndGlyphs">17:30</text>
<text x="63.7" y="465" font-size="7.2" text-anchor="start" textLength="19.2" lengthAdjust="spacingAndGlyphs">17:45</text>
<text x="87.9" y="465" font-size="7.2" text-anchor="start" textLength="19.2" lengthAdjust="spacingAndGlyphs">18:00</text>
<text x="112.1" y="465" font-size="7.2" text-anchor="start" textLength="19.2" lengthAdjust="spacingAndGlyphs">18:15</text>
<text x="136.3" y="465" font-size="7.2" text-anchor="start" textLength="19.2" lengthAdjust="spacingAndGlyphs">18:30</text>
<text x="160.5" y="465" font-size="7.2" text-anchor="start" textLength="19.2" lengthAdjust="spacingAndGlyphs">18:45</text>
<text x="184.7" y="465" font-size="7.2" text-anchor="start" textLength="19.2" lengthAdjust="spacingAndGlyphs">19:00</text>
<text y="473" font-size="8.4"><tspan x="63.0" textLength="14.0" lengthAdjust="spacingAndGlyphs">Start</tspan> <tspan x="82.3" textLength="14.7" lengthAdjust="spacingAndGlyphs">Time</tspan> <tspan x="101.0" textLength="41.6" lengthAdjust="spacingAndGlyphs">(25-May-17</tspan> <tspan x="148.8" textLength="30.2" lengthAdjust="spacingAndGlyphs">17:24:40)</tspan></text>
<text transform="translate(18.8,412.7) rotate(-90)" font-size="7.8" textLength="38.5" lengthAdjust="spacingAndGlyphs">Counts/sec</text>
<text x="38.0" y="336" font-size="7.2" text-anchor="end">10<tspan dy="-2.6" font-size="5.2">-6</tspan></text>
<text x="38.0" y="355" font-size="7.2" text-anchor="end">10<tspan dy="-2.6" font-size="5.2">-5</tspan></text>
<text x="38.0" y="375" font-size="7.2" text-anchor="end">10<tspan dy="-2.6" font-size="5.2">-4</tspan></text>
<text x="38.0" y="396" font-size="7.2" text-anchor="end">10<tspan dy="-2.6" font-size="5.2">-3</tspan></text>
<text x="38.0" y="417" font-size="7.2" text-anchor="end">10<tspan dy="-2.6" font-size="5.2">-2</tspan></text>
<text x="38.0" y="437" font-size="7.2" text-anchor="end">10<tspan dy="-2.6" font-size="5.2">-1</tspan></text>
<text x="37.7" y="456" font-size="7.2" text-anchor="end">10<tspan dy="-2.6" font-size="5.2">0</tspan></text>
<text x="254.05" y="341" font-size="13.8" text-anchor="start" textLength="8.0" lengthAdjust="spacingAndGlyphs" class="big">E</text>
<text x="347.5" y="341" font-size="13.8" text-anchor="start" textLength="7.6" lengthAdjust="spacingAndGlyphs" class="big">S</text>
<text x="383.05" y="341" font-size="13.8" text-anchor="start" textLength="8.0" lengthAdjust="spacingAndGlyphs" class="big">E</text>
<text y="328" font-size="8.4"><tspan x="258.83" textLength="13.9" lengthAdjust="spacingAndGlyphs">Det</tspan> <tspan x="277.33" textLength="8.3" lengthAdjust="spacingAndGlyphs">8r</tspan> <tspan x="289.93" textLength="25.2" lengthAdjust="spacingAndGlyphs">BLACK</tspan> <tspan x="319.73" textLength="6.2" lengthAdjust="spacingAndGlyphs">=</tspan> <tspan x="330.33" textLength="28.4" lengthAdjust="spacingAndGlyphs">Events,</tspan> <tspan x="363.33" textLength="16.2" lengthAdjust="spacingAndGlyphs">RED</tspan> <tspan x="383.53" textLength="6.6" lengthAdjust="spacingAndGlyphs">=</tspan> <tspan x="394.33" textLength="14.8" lengthAdjust="spacingAndGlyphs">LLD</tspan></text>
<text x="252.8" y="465" font-size="7.2" text-anchor="start" textLength="19.2" lengthAdjust="spacingAndGlyphs">17:30</text>
<text x="277.0" y="465" font-size="7.2" text-anchor="start" textLength="19.2" lengthAdjust="spacingAndGlyphs">17:45</text>
<text x="301.2" y="465" font-size="7.2" text-anchor="start" textLength="19.2" lengthAdjust="spacingAndGlyphs">18:00</text>
<text x="325.4" y="465" font-size="7.2" text-anchor="start" textLength="19.2" lengthAdjust="spacingAndGlyphs">18:15</text>
<text x="349.6" y="465" font-size="7.2" text-anchor="start" textLength="19.2" lengthAdjust="spacingAndGlyphs">18:30</text>
<text x="373.8" y="465" font-size="7.2" text-anchor="start" textLength="19.2" lengthAdjust="spacingAndGlyphs">18:45</text>
<text x="398.0" y="465" font-size="7.2" text-anchor="start" textLength="19.2" lengthAdjust="spacingAndGlyphs">19:00</text>
<text y="473" font-size="8.4"><tspan x="276.33" textLength="14.0" lengthAdjust="spacingAndGlyphs">Start</tspan> <tspan x="295.63" textLength="14.7" lengthAdjust="spacingAndGlyphs">Time</tspan> <tspan x="314.33" textLength="41.6" lengthAdjust="spacingAndGlyphs">(25-May-17</tspan> <tspan x="362.13" textLength="30.2" lengthAdjust="spacingAndGlyphs">17:24:40)</tspan></text>
<text transform="translate(233.93,412.7) rotate(-90)" font-size="7.8" textLength="38.5" lengthAdjust="spacingAndGlyphs">Counts/sec</text>
<text x="239.13" y="336" font-size="7.2" text-anchor="start" textLength="12.4" lengthAdjust="spacingAndGlyphs">100</text>
<text x="244.13" y="396" font-size="7.2" text-anchor="start" textLength="7.4" lengthAdjust="spacingAndGlyphs">10</text>
<text x="248.13" y="456" font-size="7.2" text-anchor="start">1</text>
<text x="467.05" y="445" font-size="13.8" text-anchor="start" textLength="8.0" lengthAdjust="spacingAndGlyphs" class="big">E</text>
<text x="560.5" y="445" font-size="13.8" text-anchor="start" textLength="7.6" lengthAdjust="spacingAndGlyphs" class="big">S</text>
<text x="596.05" y="445" font-size="13.8" text-anchor="start" textLength="8.0" lengthAdjust="spacingAndGlyphs" class="big">E</text>
<text y="328" font-size="8.4"><tspan x="472.17" textLength="13.9" lengthAdjust="spacingAndGlyphs">Det</tspan> <tspan x="490.67" textLength="8.3" lengthAdjust="spacingAndGlyphs">9r</tspan> <tspan x="503.27" textLength="25.2" lengthAdjust="spacingAndGlyphs">BLACK</tspan> <tspan x="533.07" textLength="6.2" lengthAdjust="spacingAndGlyphs">=</tspan> <tspan x="543.67" textLength="28.4" lengthAdjust="spacingAndGlyphs">Events,</tspan> <tspan x="576.67" textLength="16.2" lengthAdjust="spacingAndGlyphs">RED</tspan> <tspan x="596.87" textLength="6.6" lengthAdjust="spacingAndGlyphs">=</tspan> <tspan x="607.67" textLength="14.8" lengthAdjust="spacingAndGlyphs">LLD</tspan></text>
<text x="466.2" y="465" font-size="7.2" text-anchor="start" textLength="19.2" lengthAdjust="spacingAndGlyphs">17:30</text>
<text x="490.4" y="465" font-size="7.2" text-anchor="start" textLength="19.2" lengthAdjust="spacingAndGlyphs">17:45</text>
<text x="514.6" y="465" font-size="7.2" text-anchor="start" textLength="19.2" lengthAdjust="spacingAndGlyphs">18:00</text>
<text x="538.8" y="465" font-size="7.2" text-anchor="start" textLength="19.2" lengthAdjust="spacingAndGlyphs">18:15</text>
<text x="563.0" y="465" font-size="7.2" text-anchor="start" textLength="19.2" lengthAdjust="spacingAndGlyphs">18:30</text>
<text x="587.2" y="465" font-size="7.2" text-anchor="start" textLength="19.2" lengthAdjust="spacingAndGlyphs">18:45</text>
<text x="611.4" y="465" font-size="7.2" text-anchor="start" textLength="19.2" lengthAdjust="spacingAndGlyphs">19:00</text>
<text y="473" font-size="8.4"><tspan x="489.67" textLength="14.0" lengthAdjust="spacingAndGlyphs">Start</tspan> <tspan x="508.97" textLength="14.7" lengthAdjust="spacingAndGlyphs">Time</tspan> <tspan x="527.67" textLength="41.6" lengthAdjust="spacingAndGlyphs">(25-May-17</tspan> <tspan x="575.47" textLength="30.2" lengthAdjust="spacingAndGlyphs">17:24:40)</tspan></text>
<text transform="translate(445.47,412.7) rotate(-90)" font-size="7.8" textLength="38.5" lengthAdjust="spacingAndGlyphs">Counts/sec</text>
<text x="464.67" y="336" font-size="7.2" text-anchor="end">10<tspan dy="-2.6" font-size="5.2">-6</tspan></text>
<text x="464.67" y="355" font-size="7.2" text-anchor="end">10<tspan dy="-2.6" font-size="5.2">-5</tspan></text>
<text x="464.67" y="375" font-size="7.2" text-anchor="end">10<tspan dy="-2.6" font-size="5.2">-4</tspan></text>
<text x="464.67" y="396" font-size="7.2" text-anchor="end">10<tspan dy="-2.6" font-size="5.2">-3</tspan></text>
<text x="464.67" y="417" font-size="7.2" text-anchor="end">10<tspan dy="-2.6" font-size="5.2">-2</tspan></text>
<text x="464.67" y="437" font-size="7.2" text-anchor="end">10<tspan dy="-2.6" font-size="5.2">-1</tspan></text>
<text x="464.37" y="456" font-size="7.2" text-anchor="end">10<tspan dy="-2.6" font-size="5.2">0</tspan></text>
</g>
</svg>
</body></html>
